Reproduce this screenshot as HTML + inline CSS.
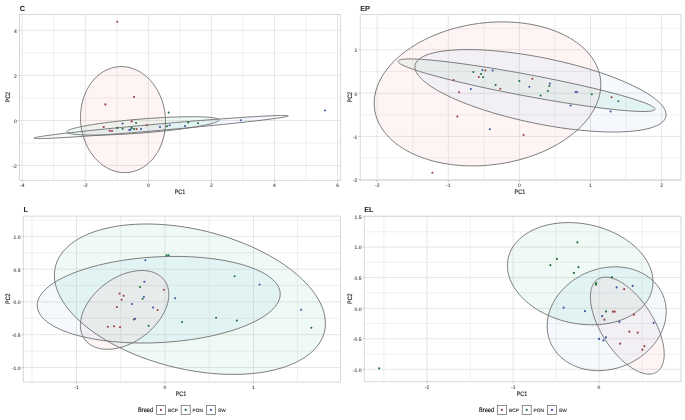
<!DOCTYPE html>
<html><head><meta charset="utf-8"><title>PCA</title>
<style>html,body{margin:0;padding:0;background:#fff;}body{width:685px;height:420px;overflow:hidden;font-family:"Liberation Sans",sans-serif;}</style></head>
<body>
<svg width="685" height="420" viewBox="0 0 685 420" style="display:block;font-family:'Liberation Sans',sans-serif;text-rendering:geometricPrecision">
<defs><filter id="bl" x="-5%" y="-5%" width="110%" height="110%"><feGaussianBlur stdDeviation="0.4"/></filter></defs>
<rect width="685" height="420" fill="#ffffff"/>
<g filter="url(#bl)">
<clipPath id="cC"><rect x="19.50" y="14.60" width="321.20" height="165.70"/></clipPath>
<g>
<line x1="19.50" x2="340.70" y1="52.90" y2="52.90" stroke="#eaeaea" stroke-width="0.75"/>
<line x1="19.50" x2="340.70" y1="98.00" y2="98.00" stroke="#eaeaea" stroke-width="0.75"/>
<line x1="19.50" x2="340.70" y1="143.00" y2="143.00" stroke="#eaeaea" stroke-width="0.75"/>
<line x1="53.70" x2="53.70" y1="14.60" y2="180.30" stroke="#eaeaea" stroke-width="0.75"/>
<line x1="116.80" x2="116.80" y1="14.60" y2="180.30" stroke="#eaeaea" stroke-width="0.75"/>
<line x1="179.90" x2="179.90" y1="14.60" y2="180.30" stroke="#eaeaea" stroke-width="0.75"/>
<line x1="243.00" x2="243.00" y1="14.60" y2="180.30" stroke="#eaeaea" stroke-width="0.75"/>
<line x1="306.10" x2="306.10" y1="14.60" y2="180.30" stroke="#eaeaea" stroke-width="0.75"/>
<line x1="19.50" x2="340.70" y1="30.30" y2="30.30" stroke="#e3e3e3" stroke-width="0.9"/>
<line x1="19.50" x2="340.70" y1="75.40" y2="75.40" stroke="#e3e3e3" stroke-width="0.9"/>
<line x1="19.50" x2="340.70" y1="120.50" y2="120.50" stroke="#e3e3e3" stroke-width="0.9"/>
<line x1="19.50" x2="340.70" y1="165.50" y2="165.50" stroke="#e3e3e3" stroke-width="0.9"/>
<line x1="22.20" x2="22.20" y1="14.60" y2="180.30" stroke="#e3e3e3" stroke-width="0.9"/>
<line x1="85.30" x2="85.30" y1="14.60" y2="180.30" stroke="#e3e3e3" stroke-width="0.9"/>
<line x1="148.40" x2="148.40" y1="14.60" y2="180.30" stroke="#e3e3e3" stroke-width="0.9"/>
<line x1="211.40" x2="211.40" y1="14.60" y2="180.30" stroke="#e3e3e3" stroke-width="0.9"/>
<line x1="274.50" x2="274.50" y1="14.60" y2="180.30" stroke="#e3e3e3" stroke-width="0.9"/>
<line x1="337.60" x2="337.60" y1="14.60" y2="180.30" stroke="#e3e3e3" stroke-width="0.9"/>
</g>
<g clip-path="url(#cC)">
<path d="M165.50,121.72 L165.47,123.80 L165.37,125.87 L165.21,127.93 L164.98,129.98 L164.68,132.01 L164.33,134.02 L163.90,136.02 L163.42,137.98 L162.87,139.92 L162.26,141.82 L161.60,143.70 L160.87,145.53 L160.08,147.33 L159.24,149.08 L158.34,150.78 L157.38,152.44 L156.38,154.05 L155.32,155.61 L154.21,157.10 L153.05,158.55 L151.85,159.93 L150.60,161.25 L149.31,162.50 L147.98,163.69 L146.61,164.81 L145.21,165.86 L143.77,166.84 L142.29,167.75 L140.79,168.58 L139.26,169.34 L137.71,170.02 L136.13,170.62 L134.54,171.14 L132.92,171.59 L131.29,171.95 L129.65,172.24 L128.00,172.44 L126.33,172.56 L124.67,172.60 L123.00,172.56 L121.33,172.43 L119.67,172.23 L118.00,171.94 L116.35,171.57 L114.71,171.13 L113.08,170.60 L111.46,169.99 L109.87,169.31 L108.29,168.55 L106.74,167.72 L105.21,166.81 L103.71,165.82 L102.23,164.77 L100.79,163.65 L99.39,162.45 L98.02,161.20 L96.69,159.88 L95.40,158.49 L94.15,157.05 L92.95,155.55 L91.79,153.99 L90.68,152.38 L89.62,150.72 L88.62,149.01 L87.66,147.26 L86.76,145.46 L85.92,143.63 L85.13,141.75 L84.40,139.85 L83.74,137.91 L83.13,135.94 L82.58,133.95 L82.10,131.93 L81.67,129.90 L81.32,127.85 L81.02,125.79 L80.79,123.72 L80.63,121.64 L80.53,119.56 L80.50,117.48 L80.53,115.40 L80.63,113.33 L80.79,111.27 L81.02,109.22 L81.32,107.19 L81.67,105.18 L82.10,103.18 L82.58,101.22 L83.13,99.28 L83.74,97.38 L84.40,95.50 L85.13,93.67 L85.92,91.87 L86.76,90.12 L87.66,88.42 L88.62,86.76 L89.62,85.15 L90.68,83.59 L91.79,82.10 L92.95,80.65 L94.15,79.27 L95.40,77.95 L96.69,76.70 L98.02,75.51 L99.39,74.39 L100.79,73.34 L102.23,72.36 L103.71,71.45 L105.21,70.62 L106.74,69.86 L108.29,69.18 L109.87,68.58 L111.46,68.06 L113.08,67.61 L114.71,67.25 L116.35,66.96 L118.00,66.76 L119.67,66.64 L121.33,66.60 L123.00,66.64 L124.67,66.77 L126.33,66.97 L128.00,67.26 L129.65,67.63 L131.29,68.07 L132.92,68.60 L134.54,69.21 L136.13,69.89 L137.71,70.65 L139.26,71.48 L140.79,72.39 L142.29,73.38 L143.77,74.43 L145.21,75.55 L146.61,76.75 L147.98,78.00 L149.31,79.32 L150.60,80.71 L151.85,82.15 L153.05,83.65 L154.21,85.21 L155.32,86.82 L156.38,88.48 L157.38,90.19 L158.34,91.94 L159.24,93.74 L160.08,95.57 L160.87,97.45 L161.60,99.35 L162.26,101.29 L162.87,103.26 L163.42,105.25 L163.90,107.27 L164.33,109.30 L164.68,111.35 L164.98,113.41 L165.21,115.48 L165.37,117.56 L165.47,119.64Z" fill="rgba(225,50,50,0.044)" stroke="none"/>
<path d="M219.07,119.96 L219.01,120.24 L218.83,120.53 L218.54,120.83 L218.13,121.14 L217.61,121.45 L216.97,121.77 L216.21,122.09 L215.34,122.42 L214.37,122.76 L213.28,123.10 L212.08,123.45 L210.78,123.80 L209.37,124.15 L207.86,124.51 L206.25,124.87 L204.54,125.22 L202.74,125.59 L200.84,125.95 L198.86,126.31 L196.79,126.67 L194.63,127.03 L192.40,127.38 L190.09,127.74 L187.71,128.09 L185.26,128.44 L182.74,128.79 L180.17,129.13 L177.53,129.46 L174.85,129.79 L172.11,130.12 L169.33,130.43 L166.51,130.74 L163.65,131.05 L160.76,131.34 L157.84,131.63 L154.90,131.91 L151.94,132.18 L148.97,132.43 L145.99,132.68 L143.00,132.92 L140.01,133.15 L137.03,133.37 L134.06,133.57 L131.10,133.76 L128.16,133.94 L125.24,134.11 L122.35,134.27 L119.49,134.41 L116.67,134.54 L113.89,134.66 L111.15,134.76 L108.47,134.85 L105.83,134.93 L103.26,134.99 L100.74,135.04 L98.29,135.07 L95.91,135.09 L93.60,135.09 L91.37,135.09 L89.21,135.06 L87.14,135.03 L85.16,134.97 L83.26,134.91 L81.46,134.83 L79.75,134.74 L78.14,134.63 L76.63,134.51 L75.22,134.38 L73.92,134.23 L72.72,134.07 L71.63,133.90 L70.66,133.72 L69.79,133.52 L69.03,133.31 L68.39,133.09 L67.87,132.86 L67.46,132.62 L67.17,132.37 L66.99,132.11 L66.93,131.84 L66.99,131.56 L67.17,131.27 L67.46,130.97 L67.87,130.66 L68.39,130.35 L69.03,130.03 L69.79,129.71 L70.66,129.38 L71.63,129.04 L72.72,128.70 L73.92,128.35 L75.22,128.00 L76.63,127.65 L78.14,127.29 L79.75,126.93 L81.46,126.58 L83.26,126.21 L85.16,125.85 L87.14,125.49 L89.21,125.13 L91.37,124.77 L93.60,124.42 L95.91,124.06 L98.29,123.71 L100.74,123.36 L103.26,123.01 L105.83,122.67 L108.47,122.34 L111.15,122.01 L113.89,121.68 L116.67,121.37 L119.49,121.06 L122.35,120.75 L125.24,120.46 L128.16,120.17 L131.10,119.89 L134.06,119.62 L137.03,119.37 L140.01,119.12 L143.00,118.88 L145.99,118.65 L148.97,118.43 L151.94,118.23 L154.90,118.04 L157.84,117.86 L160.76,117.69 L163.65,117.53 L166.51,117.39 L169.33,117.26 L172.11,117.14 L174.85,117.04 L177.53,116.95 L180.17,116.87 L182.74,116.81 L185.26,116.76 L187.71,116.73 L190.09,116.71 L192.40,116.71 L194.63,116.71 L196.79,116.74 L198.86,116.77 L200.84,116.83 L202.74,116.89 L204.54,116.97 L206.25,117.06 L207.86,117.17 L209.37,117.29 L210.78,117.42 L212.08,117.57 L213.28,117.73 L214.37,117.90 L215.34,118.08 L216.21,118.28 L216.97,118.49 L217.61,118.71 L218.13,118.94 L218.54,119.18 L218.83,119.43 L219.01,119.69Z" fill="rgba(30,160,95,0.062)" stroke="none"/>
<path d="M288.36,115.88 L288.27,116.01 L287.97,116.16 L287.48,116.33 L286.80,116.52 L285.92,116.72 L284.85,116.93 L283.59,117.17 L282.14,117.41 L280.50,117.68 L278.68,117.95 L276.68,118.24 L274.50,118.55 L272.14,118.86 L269.62,119.19 L266.92,119.54 L264.07,119.89 L261.05,120.25 L257.88,120.63 L254.57,121.01 L251.10,121.41 L247.50,121.81 L243.77,122.22 L239.91,122.64 L235.92,123.06 L231.83,123.49 L227.62,123.93 L223.31,124.37 L218.90,124.81 L214.41,125.26 L209.83,125.71 L205.18,126.16 L200.46,126.62 L195.68,127.07 L190.85,127.53 L185.97,127.98 L181.05,128.43 L176.10,128.88 L171.13,129.33 L166.14,129.77 L161.15,130.21 L156.16,130.65 L151.17,131.07 L146.20,131.50 L141.25,131.91 L136.33,132.32 L131.45,132.72 L126.62,133.11 L121.84,133.49 L117.12,133.86 L112.47,134.22 L107.89,134.57 L103.40,134.91 L98.99,135.24 L94.68,135.55 L90.47,135.85 L86.38,136.14 L82.39,136.41 L78.53,136.67 L74.80,136.91 L71.20,137.14 L67.73,137.35 L64.42,137.54 L61.25,137.72 L58.23,137.89 L55.38,138.03 L52.68,138.16 L50.16,138.27 L47.80,138.37 L45.62,138.45 L43.62,138.51 L41.80,138.55 L40.16,138.57 L38.71,138.58 L37.45,138.57 L36.38,138.54 L35.50,138.49 L34.82,138.42 L34.33,138.34 L34.03,138.24 L33.94,138.12 L34.03,137.99 L34.33,137.84 L34.82,137.67 L35.50,137.48 L36.38,137.28 L37.45,137.07 L38.71,136.83 L40.16,136.59 L41.80,136.32 L43.62,136.05 L45.62,135.76 L47.80,135.45 L50.16,135.14 L52.68,134.81 L55.38,134.46 L58.23,134.11 L61.25,133.75 L64.42,133.37 L67.73,132.99 L71.20,132.59 L74.80,132.19 L78.53,131.78 L82.39,131.36 L86.38,130.94 L90.47,130.51 L94.68,130.07 L98.99,129.63 L103.40,129.19 L107.89,128.74 L112.47,128.29 L117.12,127.84 L121.84,127.38 L126.62,126.93 L131.45,126.47 L136.33,126.02 L141.25,125.57 L146.20,125.12 L151.17,124.67 L156.16,124.23 L161.15,123.79 L166.14,123.35 L171.13,122.93 L176.10,122.50 L181.05,122.09 L185.97,121.68 L190.85,121.28 L195.68,120.89 L200.46,120.51 L205.18,120.14 L209.83,119.78 L214.41,119.43 L218.90,119.09 L223.31,118.76 L227.62,118.45 L231.83,118.15 L235.92,117.86 L239.91,117.59 L243.77,117.33 L247.50,117.09 L251.10,116.86 L254.57,116.65 L257.88,116.46 L261.05,116.28 L264.07,116.11 L266.92,115.97 L269.62,115.84 L272.14,115.73 L274.50,115.63 L276.68,115.55 L278.68,115.49 L280.50,115.45 L282.14,115.43 L283.59,115.42 L284.85,115.43 L285.92,115.46 L286.80,115.51 L287.48,115.58 L287.97,115.66 L288.27,115.76Z" fill="rgba(60,150,240,0.055)" stroke="none"/>
<path d="M165.50,121.72 L165.47,123.80 L165.37,125.87 L165.21,127.93 L164.98,129.98 L164.68,132.01 L164.33,134.02 L163.90,136.02 L163.42,137.98 L162.87,139.92 L162.26,141.82 L161.60,143.70 L160.87,145.53 L160.08,147.33 L159.24,149.08 L158.34,150.78 L157.38,152.44 L156.38,154.05 L155.32,155.61 L154.21,157.10 L153.05,158.55 L151.85,159.93 L150.60,161.25 L149.31,162.50 L147.98,163.69 L146.61,164.81 L145.21,165.86 L143.77,166.84 L142.29,167.75 L140.79,168.58 L139.26,169.34 L137.71,170.02 L136.13,170.62 L134.54,171.14 L132.92,171.59 L131.29,171.95 L129.65,172.24 L128.00,172.44 L126.33,172.56 L124.67,172.60 L123.00,172.56 L121.33,172.43 L119.67,172.23 L118.00,171.94 L116.35,171.57 L114.71,171.13 L113.08,170.60 L111.46,169.99 L109.87,169.31 L108.29,168.55 L106.74,167.72 L105.21,166.81 L103.71,165.82 L102.23,164.77 L100.79,163.65 L99.39,162.45 L98.02,161.20 L96.69,159.88 L95.40,158.49 L94.15,157.05 L92.95,155.55 L91.79,153.99 L90.68,152.38 L89.62,150.72 L88.62,149.01 L87.66,147.26 L86.76,145.46 L85.92,143.63 L85.13,141.75 L84.40,139.85 L83.74,137.91 L83.13,135.94 L82.58,133.95 L82.10,131.93 L81.67,129.90 L81.32,127.85 L81.02,125.79 L80.79,123.72 L80.63,121.64 L80.53,119.56 L80.50,117.48 L80.53,115.40 L80.63,113.33 L80.79,111.27 L81.02,109.22 L81.32,107.19 L81.67,105.18 L82.10,103.18 L82.58,101.22 L83.13,99.28 L83.74,97.38 L84.40,95.50 L85.13,93.67 L85.92,91.87 L86.76,90.12 L87.66,88.42 L88.62,86.76 L89.62,85.15 L90.68,83.59 L91.79,82.10 L92.95,80.65 L94.15,79.27 L95.40,77.95 L96.69,76.70 L98.02,75.51 L99.39,74.39 L100.79,73.34 L102.23,72.36 L103.71,71.45 L105.21,70.62 L106.74,69.86 L108.29,69.18 L109.87,68.58 L111.46,68.06 L113.08,67.61 L114.71,67.25 L116.35,66.96 L118.00,66.76 L119.67,66.64 L121.33,66.60 L123.00,66.64 L124.67,66.77 L126.33,66.97 L128.00,67.26 L129.65,67.63 L131.29,68.07 L132.92,68.60 L134.54,69.21 L136.13,69.89 L137.71,70.65 L139.26,71.48 L140.79,72.39 L142.29,73.38 L143.77,74.43 L145.21,75.55 L146.61,76.75 L147.98,78.00 L149.31,79.32 L150.60,80.71 L151.85,82.15 L153.05,83.65 L154.21,85.21 L155.32,86.82 L156.38,88.48 L157.38,90.19 L158.34,91.94 L159.24,93.74 L160.08,95.57 L160.87,97.45 L161.60,99.35 L162.26,101.29 L162.87,103.26 L163.42,105.25 L163.90,107.27 L164.33,109.30 L164.68,111.35 L164.98,113.41 L165.21,115.48 L165.37,117.56 L165.47,119.64Z" fill="none" stroke="#6e6e6e" stroke-width="0.9"/>
<path d="M219.07,119.96 L219.01,120.24 L218.83,120.53 L218.54,120.83 L218.13,121.14 L217.61,121.45 L216.97,121.77 L216.21,122.09 L215.34,122.42 L214.37,122.76 L213.28,123.10 L212.08,123.45 L210.78,123.80 L209.37,124.15 L207.86,124.51 L206.25,124.87 L204.54,125.22 L202.74,125.59 L200.84,125.95 L198.86,126.31 L196.79,126.67 L194.63,127.03 L192.40,127.38 L190.09,127.74 L187.71,128.09 L185.26,128.44 L182.74,128.79 L180.17,129.13 L177.53,129.46 L174.85,129.79 L172.11,130.12 L169.33,130.43 L166.51,130.74 L163.65,131.05 L160.76,131.34 L157.84,131.63 L154.90,131.91 L151.94,132.18 L148.97,132.43 L145.99,132.68 L143.00,132.92 L140.01,133.15 L137.03,133.37 L134.06,133.57 L131.10,133.76 L128.16,133.94 L125.24,134.11 L122.35,134.27 L119.49,134.41 L116.67,134.54 L113.89,134.66 L111.15,134.76 L108.47,134.85 L105.83,134.93 L103.26,134.99 L100.74,135.04 L98.29,135.07 L95.91,135.09 L93.60,135.09 L91.37,135.09 L89.21,135.06 L87.14,135.03 L85.16,134.97 L83.26,134.91 L81.46,134.83 L79.75,134.74 L78.14,134.63 L76.63,134.51 L75.22,134.38 L73.92,134.23 L72.72,134.07 L71.63,133.90 L70.66,133.72 L69.79,133.52 L69.03,133.31 L68.39,133.09 L67.87,132.86 L67.46,132.62 L67.17,132.37 L66.99,132.11 L66.93,131.84 L66.99,131.56 L67.17,131.27 L67.46,130.97 L67.87,130.66 L68.39,130.35 L69.03,130.03 L69.79,129.71 L70.66,129.38 L71.63,129.04 L72.72,128.70 L73.92,128.35 L75.22,128.00 L76.63,127.65 L78.14,127.29 L79.75,126.93 L81.46,126.58 L83.26,126.21 L85.16,125.85 L87.14,125.49 L89.21,125.13 L91.37,124.77 L93.60,124.42 L95.91,124.06 L98.29,123.71 L100.74,123.36 L103.26,123.01 L105.83,122.67 L108.47,122.34 L111.15,122.01 L113.89,121.68 L116.67,121.37 L119.49,121.06 L122.35,120.75 L125.24,120.46 L128.16,120.17 L131.10,119.89 L134.06,119.62 L137.03,119.37 L140.01,119.12 L143.00,118.88 L145.99,118.65 L148.97,118.43 L151.94,118.23 L154.90,118.04 L157.84,117.86 L160.76,117.69 L163.65,117.53 L166.51,117.39 L169.33,117.26 L172.11,117.14 L174.85,117.04 L177.53,116.95 L180.17,116.87 L182.74,116.81 L185.26,116.76 L187.71,116.73 L190.09,116.71 L192.40,116.71 L194.63,116.71 L196.79,116.74 L198.86,116.77 L200.84,116.83 L202.74,116.89 L204.54,116.97 L206.25,117.06 L207.86,117.17 L209.37,117.29 L210.78,117.42 L212.08,117.57 L213.28,117.73 L214.37,117.90 L215.34,118.08 L216.21,118.28 L216.97,118.49 L217.61,118.71 L218.13,118.94 L218.54,119.18 L218.83,119.43 L219.01,119.69Z" fill="none" stroke="#6e6e6e" stroke-width="0.9"/>
<path d="M288.36,115.88 L288.27,116.01 L287.97,116.16 L287.48,116.33 L286.80,116.52 L285.92,116.72 L284.85,116.93 L283.59,117.17 L282.14,117.41 L280.50,117.68 L278.68,117.95 L276.68,118.24 L274.50,118.55 L272.14,118.86 L269.62,119.19 L266.92,119.54 L264.07,119.89 L261.05,120.25 L257.88,120.63 L254.57,121.01 L251.10,121.41 L247.50,121.81 L243.77,122.22 L239.91,122.64 L235.92,123.06 L231.83,123.49 L227.62,123.93 L223.31,124.37 L218.90,124.81 L214.41,125.26 L209.83,125.71 L205.18,126.16 L200.46,126.62 L195.68,127.07 L190.85,127.53 L185.97,127.98 L181.05,128.43 L176.10,128.88 L171.13,129.33 L166.14,129.77 L161.15,130.21 L156.16,130.65 L151.17,131.07 L146.20,131.50 L141.25,131.91 L136.33,132.32 L131.45,132.72 L126.62,133.11 L121.84,133.49 L117.12,133.86 L112.47,134.22 L107.89,134.57 L103.40,134.91 L98.99,135.24 L94.68,135.55 L90.47,135.85 L86.38,136.14 L82.39,136.41 L78.53,136.67 L74.80,136.91 L71.20,137.14 L67.73,137.35 L64.42,137.54 L61.25,137.72 L58.23,137.89 L55.38,138.03 L52.68,138.16 L50.16,138.27 L47.80,138.37 L45.62,138.45 L43.62,138.51 L41.80,138.55 L40.16,138.57 L38.71,138.58 L37.45,138.57 L36.38,138.54 L35.50,138.49 L34.82,138.42 L34.33,138.34 L34.03,138.24 L33.94,138.12 L34.03,137.99 L34.33,137.84 L34.82,137.67 L35.50,137.48 L36.38,137.28 L37.45,137.07 L38.71,136.83 L40.16,136.59 L41.80,136.32 L43.62,136.05 L45.62,135.76 L47.80,135.45 L50.16,135.14 L52.68,134.81 L55.38,134.46 L58.23,134.11 L61.25,133.75 L64.42,133.37 L67.73,132.99 L71.20,132.59 L74.80,132.19 L78.53,131.78 L82.39,131.36 L86.38,130.94 L90.47,130.51 L94.68,130.07 L98.99,129.63 L103.40,129.19 L107.89,128.74 L112.47,128.29 L117.12,127.84 L121.84,127.38 L126.62,126.93 L131.45,126.47 L136.33,126.02 L141.25,125.57 L146.20,125.12 L151.17,124.67 L156.16,124.23 L161.15,123.79 L166.14,123.35 L171.13,122.93 L176.10,122.50 L181.05,122.09 L185.97,121.68 L190.85,121.28 L195.68,120.89 L200.46,120.51 L205.18,120.14 L209.83,119.78 L214.41,119.43 L218.90,119.09 L223.31,118.76 L227.62,118.45 L231.83,118.15 L235.92,117.86 L239.91,117.59 L243.77,117.33 L247.50,117.09 L251.10,116.86 L254.57,116.65 L257.88,116.46 L261.05,116.28 L264.07,116.11 L266.92,115.97 L269.62,115.84 L272.14,115.73 L274.50,115.63 L276.68,115.55 L278.68,115.49 L280.50,115.45 L282.14,115.43 L283.59,115.42 L284.85,115.43 L285.92,115.46 L286.80,115.51 L287.48,115.58 L287.97,115.66 L288.27,115.76Z" fill="none" stroke="#6e6e6e" stroke-width="0.9"/>
<circle cx="117.25" cy="21.75" r="1.05" fill="#9a3e3e"/>
<circle cx="134.00" cy="97.00" r="1.05" fill="#9a3e3e"/>
<circle cx="105.30" cy="104.40" r="1.05" fill="#9a3e3e"/>
<circle cx="131.70" cy="121.40" r="1.05" fill="#9a3e3e"/>
<circle cx="103.70" cy="127.00" r="1.05" fill="#9a3e3e"/>
<circle cx="109.70" cy="130.70" r="1.05" fill="#9a3e3e"/>
<circle cx="112.00" cy="131.00" r="1.05" fill="#9a3e3e"/>
<circle cx="146.70" cy="125.20" r="1.05" fill="#9a3e3e"/>
<circle cx="136.50" cy="129.10" r="1.05" fill="#9a3e3e"/>
<circle cx="168.70" cy="112.60" r="1.05" fill="#1d7034"/>
<circle cx="136.10" cy="123.00" r="1.05" fill="#1d7034"/>
<circle cx="117.40" cy="127.90" r="1.05" fill="#1d7034"/>
<circle cx="122.60" cy="128.80" r="1.05" fill="#1d7034"/>
<circle cx="131.70" cy="127.90" r="1.05" fill="#1d7034"/>
<circle cx="134.00" cy="129.00" r="1.05" fill="#1d7034"/>
<circle cx="167.00" cy="126.30" r="1.05" fill="#1d7034"/>
<circle cx="188.25" cy="122.50" r="1.05" fill="#1d7034"/>
<circle cx="198.00" cy="123.25" r="1.05" fill="#1d7034"/>
<circle cx="122.60" cy="123.50" r="1.05" fill="#3b54a6"/>
<circle cx="129.30" cy="130.00" r="1.05" fill="#3b54a6"/>
<circle cx="130.50" cy="129.60" r="1.05" fill="#3b54a6"/>
<circle cx="141.00" cy="129.00" r="1.05" fill="#3b54a6"/>
<circle cx="160.00" cy="127.00" r="1.05" fill="#3b54a6"/>
<circle cx="169.60" cy="125.20" r="1.05" fill="#3b54a6"/>
<circle cx="185.00" cy="126.00" r="1.05" fill="#3b54a6"/>
<circle cx="240.75" cy="120.25" r="1.05" fill="#3b54a6"/>
<circle cx="325.00" cy="110.50" r="1.05" fill="#3b54a6"/>
</g>
<rect x="19.50" y="14.60" width="321.20" height="165.70" fill="none" stroke="#d0d0d0" stroke-width="0.8"/>
<line x1="18.00" x2="19.50" y1="30.30" y2="30.30" stroke="#888" stroke-width="0.5"/>
<text x="16.70" y="32.60" font-size="5" fill="#444" stroke="#444" stroke-width="0.1" text-anchor="end">4</text>
<line x1="18.00" x2="19.50" y1="75.40" y2="75.40" stroke="#888" stroke-width="0.5"/>
<text x="16.70" y="77.70" font-size="5" fill="#444" stroke="#444" stroke-width="0.1" text-anchor="end">2</text>
<line x1="18.00" x2="19.50" y1="120.50" y2="120.50" stroke="#888" stroke-width="0.5"/>
<text x="16.70" y="122.80" font-size="5" fill="#444" stroke="#444" stroke-width="0.1" text-anchor="end">0</text>
<line x1="18.00" x2="19.50" y1="165.50" y2="165.50" stroke="#888" stroke-width="0.5"/>
<text x="16.70" y="167.80" font-size="5" fill="#444" stroke="#444" stroke-width="0.1" text-anchor="end">-2</text>
<line x1="22.20" x2="22.20" y1="180.30" y2="181.80" stroke="#888" stroke-width="0.5"/>
<text x="22.20" y="187.20" font-size="5" fill="#444" stroke="#444" stroke-width="0.1" text-anchor="middle">-4</text>
<line x1="85.30" x2="85.30" y1="180.30" y2="181.80" stroke="#888" stroke-width="0.5"/>
<text x="85.30" y="187.20" font-size="5" fill="#444" stroke="#444" stroke-width="0.1" text-anchor="middle">-2</text>
<line x1="148.40" x2="148.40" y1="180.30" y2="181.80" stroke="#888" stroke-width="0.5"/>
<text x="148.40" y="187.20" font-size="5" fill="#444" stroke="#444" stroke-width="0.1" text-anchor="middle">0</text>
<line x1="211.40" x2="211.40" y1="180.30" y2="181.80" stroke="#888" stroke-width="0.5"/>
<text x="211.40" y="187.20" font-size="5" fill="#444" stroke="#444" stroke-width="0.1" text-anchor="middle">2</text>
<line x1="274.50" x2="274.50" y1="180.30" y2="181.80" stroke="#888" stroke-width="0.5"/>
<text x="274.50" y="187.20" font-size="5" fill="#444" stroke="#444" stroke-width="0.1" text-anchor="middle">4</text>
<line x1="337.60" x2="337.60" y1="180.30" y2="181.80" stroke="#888" stroke-width="0.5"/>
<text x="337.60" y="187.20" font-size="5" fill="#444" stroke="#444" stroke-width="0.1" text-anchor="middle">6</text>
<text x="19.70" y="10.50" font-size="7.4" font-weight="bold" fill="#222">C</text>
<text x="180.00" y="194.00" font-size="6.4" fill="#2a2a2a" stroke="#2a2a2a" stroke-width="0.18" text-anchor="middle" textLength="10.6" lengthAdjust="spacingAndGlyphs">PC1</text>
<text transform="translate(10.30,97.20) rotate(-90)" font-size="6.4" fill="#2a2a2a" stroke="#2a2a2a" stroke-width="0.18" text-anchor="middle" textLength="10.6" lengthAdjust="spacingAndGlyphs">PC2</text>
<clipPath id="cEP"><rect x="360.20" y="14.60" width="320.70" height="165.70"/></clipPath>
<g>
<line x1="360.20" x2="680.90" y1="28.30" y2="28.30" stroke="#eaeaea" stroke-width="0.75"/>
<line x1="360.20" x2="680.90" y1="71.50" y2="71.50" stroke="#eaeaea" stroke-width="0.75"/>
<line x1="360.20" x2="680.90" y1="114.80" y2="114.80" stroke="#eaeaea" stroke-width="0.75"/>
<line x1="360.20" x2="680.90" y1="158.00" y2="158.00" stroke="#eaeaea" stroke-width="0.75"/>
<line x1="412.80" x2="412.80" y1="14.60" y2="180.30" stroke="#eaeaea" stroke-width="0.75"/>
<line x1="484.30" x2="484.30" y1="14.60" y2="180.30" stroke="#eaeaea" stroke-width="0.75"/>
<line x1="555.00" x2="555.00" y1="14.60" y2="180.30" stroke="#eaeaea" stroke-width="0.75"/>
<line x1="626.00" x2="626.00" y1="14.60" y2="180.30" stroke="#eaeaea" stroke-width="0.75"/>
<line x1="360.20" x2="680.90" y1="49.80" y2="49.80" stroke="#e3e3e3" stroke-width="0.9"/>
<line x1="360.20" x2="680.90" y1="93.20" y2="93.20" stroke="#e3e3e3" stroke-width="0.9"/>
<line x1="360.20" x2="680.90" y1="136.40" y2="136.40" stroke="#e3e3e3" stroke-width="0.9"/>
<line x1="360.20" x2="680.90" y1="179.50" y2="179.50" stroke="#e3e3e3" stroke-width="0.9"/>
<line x1="377.20" x2="377.20" y1="14.60" y2="180.30" stroke="#e3e3e3" stroke-width="0.9"/>
<line x1="448.30" x2="448.30" y1="14.60" y2="180.30" stroke="#e3e3e3" stroke-width="0.9"/>
<line x1="519.40" x2="519.40" y1="14.60" y2="180.30" stroke="#e3e3e3" stroke-width="0.9"/>
<line x1="590.50" x2="590.50" y1="14.60" y2="180.30" stroke="#e3e3e3" stroke-width="0.9"/>
<line x1="661.60" x2="661.60" y1="14.60" y2="180.30" stroke="#e3e3e3" stroke-width="0.9"/>
</g>
<g clip-path="url(#cEP)">
<path d="M600.80,84.54 L600.71,87.35 L600.45,90.17 L600.01,93.00 L599.41,95.82 L598.62,98.65 L597.67,101.46 L596.55,104.27 L595.25,107.06 L593.80,109.83 L592.18,112.57 L590.39,115.29 L588.45,117.97 L586.35,120.62 L584.10,123.22 L581.71,125.78 L579.16,128.29 L576.48,130.75 L573.65,133.15 L570.70,135.49 L567.62,137.76 L564.41,139.97 L561.08,142.11 L557.64,144.17 L554.10,146.15 L550.45,148.06 L546.70,149.88 L542.86,151.61 L538.94,153.26 L534.93,154.81 L530.86,156.27 L526.72,157.64 L522.51,158.90 L518.25,160.07 L513.95,161.13 L509.60,162.09 L505.22,162.95 L500.82,163.69 L496.39,164.33 L491.95,164.87 L487.50,165.29 L483.05,165.60 L478.61,165.80 L474.18,165.89 L469.78,165.87 L465.40,165.74 L461.05,165.50 L456.75,165.15 L452.49,164.69 L448.28,164.12 L444.14,163.44 L440.07,162.65 L436.06,161.76 L432.14,160.76 L428.30,159.66 L424.55,158.46 L420.90,157.16 L417.36,155.76 L413.92,154.26 L410.59,152.68 L407.38,151.00 L404.30,149.23 L401.35,147.38 L398.52,145.45 L395.84,143.43 L393.29,141.34 L390.90,139.18 L388.65,136.95 L386.55,134.65 L384.61,132.29 L382.82,129.87 L381.20,127.39 L379.75,124.86 L378.45,122.29 L377.33,119.67 L376.38,117.01 L375.59,114.31 L374.99,111.59 L374.55,108.83 L374.29,106.06 L374.20,103.26 L374.29,100.45 L374.55,97.63 L374.99,94.80 L375.59,91.98 L376.38,89.15 L377.33,86.34 L378.45,83.53 L379.75,80.74 L381.20,77.97 L382.82,75.23 L384.61,72.51 L386.55,69.83 L388.65,67.18 L390.90,64.58 L393.29,62.02 L395.84,59.51 L398.52,57.05 L401.35,54.65 L404.30,52.31 L407.38,50.04 L410.59,47.83 L413.92,45.69 L417.36,43.63 L420.90,41.65 L424.55,39.74 L428.30,37.92 L432.14,36.19 L436.06,34.54 L440.07,32.99 L444.14,31.53 L448.28,30.16 L452.49,28.90 L456.75,27.73 L461.05,26.67 L465.40,25.71 L469.78,24.85 L474.18,24.11 L478.61,23.47 L483.05,22.93 L487.50,22.51 L491.95,22.20 L496.39,22.00 L500.82,21.91 L505.22,21.93 L509.60,22.06 L513.95,22.30 L518.25,22.65 L522.51,23.11 L526.72,23.68 L530.86,24.36 L534.93,25.15 L538.94,26.04 L542.86,27.04 L546.70,28.14 L550.45,29.34 L554.10,30.64 L557.64,32.04 L561.08,33.54 L564.41,35.12 L567.62,36.80 L570.70,38.57 L573.65,40.42 L576.48,42.35 L579.16,44.37 L581.71,46.46 L584.10,48.62 L586.35,50.85 L588.45,53.15 L590.39,55.51 L592.18,57.93 L593.80,60.41 L595.25,62.94 L596.55,65.51 L597.67,68.13 L598.62,70.79 L599.41,73.49 L600.01,76.21 L600.45,78.97 L600.71,81.74Z" fill="rgba(225,50,50,0.044)" stroke="none"/>
<path d="M666.10,114.70 L666.00,116.00 L665.71,117.26 L665.23,118.48 L664.55,119.65 L663.69,120.78 L662.63,121.87 L661.38,122.91 L659.95,123.90 L658.34,124.84 L656.54,125.72 L654.56,126.55 L652.41,127.33 L650.09,128.05 L647.59,128.71 L644.93,129.31 L642.11,129.86 L639.14,130.34 L636.01,130.77 L632.73,131.13 L629.31,131.43 L625.76,131.67 L622.07,131.84 L618.26,131.95 L614.33,132.00 L610.28,131.98 L606.13,131.90 L601.87,131.76 L597.52,131.55 L593.08,131.28 L588.57,130.95 L583.97,130.56 L579.31,130.10 L574.59,129.59 L569.82,129.01 L565.00,128.38 L560.15,127.69 L555.26,126.94 L550.35,126.13 L545.43,125.27 L540.50,124.36 L535.57,123.40 L530.65,122.38 L525.74,121.32 L520.85,120.21 L516.00,119.06 L511.18,117.86 L506.41,116.62 L501.69,115.34 L497.03,114.02 L492.43,112.66 L487.92,111.27 L483.48,109.86 L479.13,108.41 L474.87,106.93 L470.72,105.43 L466.67,103.91 L462.74,102.36 L458.93,100.80 L455.24,99.22 L451.69,97.64 L448.27,96.03 L444.99,94.43 L441.86,92.81 L438.89,91.20 L436.07,89.58 L433.41,87.96 L430.91,86.35 L428.59,84.75 L426.44,83.15 L424.46,81.57 L422.66,80.00 L421.05,78.44 L419.62,76.91 L418.37,75.40 L417.31,73.91 L416.45,72.45 L415.77,71.01 L415.29,69.61 L415.00,68.24 L414.90,66.90 L415.00,65.60 L415.29,64.34 L415.77,63.12 L416.45,61.95 L417.31,60.82 L418.37,59.73 L419.62,58.69 L421.05,57.70 L422.66,56.76 L424.46,55.88 L426.44,55.05 L428.59,54.27 L430.91,53.55 L433.41,52.89 L436.07,52.29 L438.89,51.74 L441.86,51.26 L444.99,50.83 L448.27,50.47 L451.69,50.17 L455.24,49.93 L458.93,49.76 L462.74,49.65 L466.67,49.60 L470.72,49.62 L474.87,49.70 L479.13,49.84 L483.48,50.05 L487.92,50.32 L492.43,50.65 L497.03,51.04 L501.69,51.50 L506.41,52.01 L511.18,52.59 L516.00,53.22 L520.85,53.91 L525.74,54.66 L530.65,55.47 L535.57,56.33 L540.50,57.24 L545.43,58.20 L550.35,59.22 L555.26,60.28 L560.15,61.39 L565.00,62.54 L569.82,63.74 L574.59,64.98 L579.31,66.26 L583.97,67.58 L588.57,68.94 L593.08,70.33 L597.52,71.74 L601.87,73.19 L606.13,74.67 L610.28,76.17 L614.33,77.69 L618.26,79.24 L622.07,80.80 L625.76,82.38 L629.31,83.96 L632.73,85.57 L636.01,87.17 L639.14,88.79 L642.11,90.40 L644.93,92.02 L647.59,93.64 L650.09,95.25 L652.41,96.85 L654.56,98.45 L656.54,100.03 L658.34,101.60 L659.95,103.16 L661.38,104.69 L662.63,106.20 L663.69,107.69 L664.55,109.15 L665.23,110.59 L665.71,111.99 L666.00,113.36Z" fill="rgba(60,150,240,0.055)" stroke="none"/>
<path d="M654.99,109.08 L654.89,109.49 L654.59,109.86 L654.09,110.20 L653.40,110.50 L652.52,110.76 L651.43,110.98 L650.16,111.16 L648.70,111.30 L647.04,111.40 L645.20,111.46 L643.18,111.48 L640.98,111.46 L638.60,111.40 L636.05,111.30 L633.33,111.16 L630.45,110.97 L627.40,110.75 L624.20,110.49 L620.85,110.19 L617.35,109.85 L613.72,109.47 L609.94,109.06 L606.04,108.61 L602.02,108.12 L597.88,107.60 L593.63,107.04 L589.28,106.45 L584.83,105.83 L580.29,105.17 L575.67,104.49 L570.97,103.77 L566.20,103.03 L561.38,102.25 L556.49,101.46 L551.57,100.63 L546.60,99.79 L541.60,98.92 L536.58,98.03 L531.54,97.12 L526.50,96.19 L521.46,95.24 L516.42,94.28 L511.40,93.30 L506.40,92.32 L501.43,91.32 L496.51,90.31 L491.62,89.29 L486.80,88.27 L482.03,87.24 L477.33,86.21 L472.71,85.18 L468.17,84.15 L463.72,83.12 L459.37,82.09 L455.12,81.07 L450.98,80.05 L446.96,79.05 L443.06,78.05 L439.28,77.06 L435.65,76.09 L432.15,75.13 L428.80,74.18 L425.60,73.25 L422.55,72.34 L419.67,71.45 L416.95,70.58 L414.40,69.74 L412.02,68.91 L409.82,68.12 L407.80,67.35 L405.96,66.60 L404.30,65.89 L402.84,65.20 L401.57,64.55 L400.48,63.93 L399.60,63.34 L398.91,62.78 L398.41,62.26 L398.11,61.77 L398.01,61.32 L398.11,60.91 L398.41,60.54 L398.91,60.20 L399.60,59.90 L400.48,59.64 L401.57,59.42 L402.84,59.24 L404.30,59.10 L405.96,59.00 L407.80,58.94 L409.82,58.92 L412.02,58.94 L414.40,59.00 L416.95,59.10 L419.67,59.24 L422.55,59.43 L425.60,59.65 L428.80,59.91 L432.15,60.21 L435.65,60.55 L439.28,60.93 L443.06,61.34 L446.96,61.79 L450.98,62.28 L455.12,62.80 L459.37,63.36 L463.72,63.95 L468.17,64.57 L472.71,65.23 L477.33,65.91 L482.03,66.63 L486.80,67.37 L491.62,68.15 L496.51,68.94 L501.43,69.77 L506.40,70.61 L511.40,71.48 L516.42,72.37 L521.46,73.28 L526.50,74.21 L531.54,75.16 L536.58,76.12 L541.60,77.10 L546.60,78.08 L551.57,79.08 L556.49,80.09 L561.38,81.11 L566.20,82.13 L570.97,83.16 L575.67,84.19 L580.29,85.22 L584.83,86.25 L589.28,87.28 L593.63,88.31 L597.88,89.33 L602.02,90.35 L606.04,91.35 L609.94,92.35 L613.72,93.34 L617.35,94.31 L620.85,95.27 L624.20,96.22 L627.40,97.15 L630.45,98.06 L633.33,98.95 L636.05,99.82 L638.60,100.66 L640.98,101.49 L643.18,102.28 L645.20,103.05 L647.04,103.80 L648.70,104.51 L650.16,105.20 L651.43,105.85 L652.52,106.47 L653.40,107.06 L654.09,107.62 L654.59,108.14 L654.89,108.63Z" fill="rgba(30,160,95,0.062)" stroke="none"/>
<path d="M600.80,84.54 L600.71,87.35 L600.45,90.17 L600.01,93.00 L599.41,95.82 L598.62,98.65 L597.67,101.46 L596.55,104.27 L595.25,107.06 L593.80,109.83 L592.18,112.57 L590.39,115.29 L588.45,117.97 L586.35,120.62 L584.10,123.22 L581.71,125.78 L579.16,128.29 L576.48,130.75 L573.65,133.15 L570.70,135.49 L567.62,137.76 L564.41,139.97 L561.08,142.11 L557.64,144.17 L554.10,146.15 L550.45,148.06 L546.70,149.88 L542.86,151.61 L538.94,153.26 L534.93,154.81 L530.86,156.27 L526.72,157.64 L522.51,158.90 L518.25,160.07 L513.95,161.13 L509.60,162.09 L505.22,162.95 L500.82,163.69 L496.39,164.33 L491.95,164.87 L487.50,165.29 L483.05,165.60 L478.61,165.80 L474.18,165.89 L469.78,165.87 L465.40,165.74 L461.05,165.50 L456.75,165.15 L452.49,164.69 L448.28,164.12 L444.14,163.44 L440.07,162.65 L436.06,161.76 L432.14,160.76 L428.30,159.66 L424.55,158.46 L420.90,157.16 L417.36,155.76 L413.92,154.26 L410.59,152.68 L407.38,151.00 L404.30,149.23 L401.35,147.38 L398.52,145.45 L395.84,143.43 L393.29,141.34 L390.90,139.18 L388.65,136.95 L386.55,134.65 L384.61,132.29 L382.82,129.87 L381.20,127.39 L379.75,124.86 L378.45,122.29 L377.33,119.67 L376.38,117.01 L375.59,114.31 L374.99,111.59 L374.55,108.83 L374.29,106.06 L374.20,103.26 L374.29,100.45 L374.55,97.63 L374.99,94.80 L375.59,91.98 L376.38,89.15 L377.33,86.34 L378.45,83.53 L379.75,80.74 L381.20,77.97 L382.82,75.23 L384.61,72.51 L386.55,69.83 L388.65,67.18 L390.90,64.58 L393.29,62.02 L395.84,59.51 L398.52,57.05 L401.35,54.65 L404.30,52.31 L407.38,50.04 L410.59,47.83 L413.92,45.69 L417.36,43.63 L420.90,41.65 L424.55,39.74 L428.30,37.92 L432.14,36.19 L436.06,34.54 L440.07,32.99 L444.14,31.53 L448.28,30.16 L452.49,28.90 L456.75,27.73 L461.05,26.67 L465.40,25.71 L469.78,24.85 L474.18,24.11 L478.61,23.47 L483.05,22.93 L487.50,22.51 L491.95,22.20 L496.39,22.00 L500.82,21.91 L505.22,21.93 L509.60,22.06 L513.95,22.30 L518.25,22.65 L522.51,23.11 L526.72,23.68 L530.86,24.36 L534.93,25.15 L538.94,26.04 L542.86,27.04 L546.70,28.14 L550.45,29.34 L554.10,30.64 L557.64,32.04 L561.08,33.54 L564.41,35.12 L567.62,36.80 L570.70,38.57 L573.65,40.42 L576.48,42.35 L579.16,44.37 L581.71,46.46 L584.10,48.62 L586.35,50.85 L588.45,53.15 L590.39,55.51 L592.18,57.93 L593.80,60.41 L595.25,62.94 L596.55,65.51 L597.67,68.13 L598.62,70.79 L599.41,73.49 L600.01,76.21 L600.45,78.97 L600.71,81.74Z" fill="none" stroke="#6e6e6e" stroke-width="0.9"/>
<path d="M666.10,114.70 L666.00,116.00 L665.71,117.26 L665.23,118.48 L664.55,119.65 L663.69,120.78 L662.63,121.87 L661.38,122.91 L659.95,123.90 L658.34,124.84 L656.54,125.72 L654.56,126.55 L652.41,127.33 L650.09,128.05 L647.59,128.71 L644.93,129.31 L642.11,129.86 L639.14,130.34 L636.01,130.77 L632.73,131.13 L629.31,131.43 L625.76,131.67 L622.07,131.84 L618.26,131.95 L614.33,132.00 L610.28,131.98 L606.13,131.90 L601.87,131.76 L597.52,131.55 L593.08,131.28 L588.57,130.95 L583.97,130.56 L579.31,130.10 L574.59,129.59 L569.82,129.01 L565.00,128.38 L560.15,127.69 L555.26,126.94 L550.35,126.13 L545.43,125.27 L540.50,124.36 L535.57,123.40 L530.65,122.38 L525.74,121.32 L520.85,120.21 L516.00,119.06 L511.18,117.86 L506.41,116.62 L501.69,115.34 L497.03,114.02 L492.43,112.66 L487.92,111.27 L483.48,109.86 L479.13,108.41 L474.87,106.93 L470.72,105.43 L466.67,103.91 L462.74,102.36 L458.93,100.80 L455.24,99.22 L451.69,97.64 L448.27,96.03 L444.99,94.43 L441.86,92.81 L438.89,91.20 L436.07,89.58 L433.41,87.96 L430.91,86.35 L428.59,84.75 L426.44,83.15 L424.46,81.57 L422.66,80.00 L421.05,78.44 L419.62,76.91 L418.37,75.40 L417.31,73.91 L416.45,72.45 L415.77,71.01 L415.29,69.61 L415.00,68.24 L414.90,66.90 L415.00,65.60 L415.29,64.34 L415.77,63.12 L416.45,61.95 L417.31,60.82 L418.37,59.73 L419.62,58.69 L421.05,57.70 L422.66,56.76 L424.46,55.88 L426.44,55.05 L428.59,54.27 L430.91,53.55 L433.41,52.89 L436.07,52.29 L438.89,51.74 L441.86,51.26 L444.99,50.83 L448.27,50.47 L451.69,50.17 L455.24,49.93 L458.93,49.76 L462.74,49.65 L466.67,49.60 L470.72,49.62 L474.87,49.70 L479.13,49.84 L483.48,50.05 L487.92,50.32 L492.43,50.65 L497.03,51.04 L501.69,51.50 L506.41,52.01 L511.18,52.59 L516.00,53.22 L520.85,53.91 L525.74,54.66 L530.65,55.47 L535.57,56.33 L540.50,57.24 L545.43,58.20 L550.35,59.22 L555.26,60.28 L560.15,61.39 L565.00,62.54 L569.82,63.74 L574.59,64.98 L579.31,66.26 L583.97,67.58 L588.57,68.94 L593.08,70.33 L597.52,71.74 L601.87,73.19 L606.13,74.67 L610.28,76.17 L614.33,77.69 L618.26,79.24 L622.07,80.80 L625.76,82.38 L629.31,83.96 L632.73,85.57 L636.01,87.17 L639.14,88.79 L642.11,90.40 L644.93,92.02 L647.59,93.64 L650.09,95.25 L652.41,96.85 L654.56,98.45 L656.54,100.03 L658.34,101.60 L659.95,103.16 L661.38,104.69 L662.63,106.20 L663.69,107.69 L664.55,109.15 L665.23,110.59 L665.71,111.99 L666.00,113.36Z" fill="none" stroke="#6e6e6e" stroke-width="0.9"/>
<path d="M654.99,109.08 L654.89,109.49 L654.59,109.86 L654.09,110.20 L653.40,110.50 L652.52,110.76 L651.43,110.98 L650.16,111.16 L648.70,111.30 L647.04,111.40 L645.20,111.46 L643.18,111.48 L640.98,111.46 L638.60,111.40 L636.05,111.30 L633.33,111.16 L630.45,110.97 L627.40,110.75 L624.20,110.49 L620.85,110.19 L617.35,109.85 L613.72,109.47 L609.94,109.06 L606.04,108.61 L602.02,108.12 L597.88,107.60 L593.63,107.04 L589.28,106.45 L584.83,105.83 L580.29,105.17 L575.67,104.49 L570.97,103.77 L566.20,103.03 L561.38,102.25 L556.49,101.46 L551.57,100.63 L546.60,99.79 L541.60,98.92 L536.58,98.03 L531.54,97.12 L526.50,96.19 L521.46,95.24 L516.42,94.28 L511.40,93.30 L506.40,92.32 L501.43,91.32 L496.51,90.31 L491.62,89.29 L486.80,88.27 L482.03,87.24 L477.33,86.21 L472.71,85.18 L468.17,84.15 L463.72,83.12 L459.37,82.09 L455.12,81.07 L450.98,80.05 L446.96,79.05 L443.06,78.05 L439.28,77.06 L435.65,76.09 L432.15,75.13 L428.80,74.18 L425.60,73.25 L422.55,72.34 L419.67,71.45 L416.95,70.58 L414.40,69.74 L412.02,68.91 L409.82,68.12 L407.80,67.35 L405.96,66.60 L404.30,65.89 L402.84,65.20 L401.57,64.55 L400.48,63.93 L399.60,63.34 L398.91,62.78 L398.41,62.26 L398.11,61.77 L398.01,61.32 L398.11,60.91 L398.41,60.54 L398.91,60.20 L399.60,59.90 L400.48,59.64 L401.57,59.42 L402.84,59.24 L404.30,59.10 L405.96,59.00 L407.80,58.94 L409.82,58.92 L412.02,58.94 L414.40,59.00 L416.95,59.10 L419.67,59.24 L422.55,59.43 L425.60,59.65 L428.80,59.91 L432.15,60.21 L435.65,60.55 L439.28,60.93 L443.06,61.34 L446.96,61.79 L450.98,62.28 L455.12,62.80 L459.37,63.36 L463.72,63.95 L468.17,64.57 L472.71,65.23 L477.33,65.91 L482.03,66.63 L486.80,67.37 L491.62,68.15 L496.51,68.94 L501.43,69.77 L506.40,70.61 L511.40,71.48 L516.42,72.37 L521.46,73.28 L526.50,74.21 L531.54,75.16 L536.58,76.12 L541.60,77.10 L546.60,78.08 L551.57,79.08 L556.49,80.09 L561.38,81.11 L566.20,82.13 L570.97,83.16 L575.67,84.19 L580.29,85.22 L584.83,86.25 L589.28,87.28 L593.63,88.31 L597.88,89.33 L602.02,90.35 L606.04,91.35 L609.94,92.35 L613.72,93.34 L617.35,94.31 L620.85,95.27 L624.20,96.22 L627.40,97.15 L630.45,98.06 L633.33,98.95 L636.05,99.82 L638.60,100.66 L640.98,101.49 L643.18,102.28 L645.20,103.05 L647.04,103.80 L648.70,104.51 L650.16,105.20 L651.43,105.85 L652.52,106.47 L653.40,107.06 L654.09,107.62 L654.59,108.14 L654.89,108.63Z" fill="none" stroke="#6e6e6e" stroke-width="0.9"/>
<circle cx="473.35" cy="72.00" r="1.05" fill="#1d7034"/>
<circle cx="481.10" cy="74.00" r="1.05" fill="#1d7034"/>
<circle cx="483.10" cy="77.25" r="1.05" fill="#1d7034"/>
<circle cx="495.60" cy="85.00" r="1.05" fill="#1d7034"/>
<circle cx="485.35" cy="70.50" r="1.05" fill="#9a3e3e"/>
<circle cx="478.85" cy="77.00" r="1.05" fill="#9a3e3e"/>
<circle cx="453.60" cy="80.00" r="1.05" fill="#9a3e3e"/>
<circle cx="459.10" cy="92.25" r="1.05" fill="#9a3e3e"/>
<circle cx="500.35" cy="88.75" r="1.05" fill="#9a3e3e"/>
<circle cx="457.35" cy="116.50" r="1.05" fill="#9a3e3e"/>
<circle cx="432.35" cy="172.75" r="1.05" fill="#9a3e3e"/>
<circle cx="482.35" cy="70.00" r="1.05" fill="#3b54a6"/>
<circle cx="492.60" cy="70.50" r="1.05" fill="#3b54a6"/>
<circle cx="470.85" cy="89.00" r="1.05" fill="#3b54a6"/>
<circle cx="489.85" cy="129.25" r="1.05" fill="#3b54a6"/>
<circle cx="519.35" cy="81.00" r="1.05" fill="#1d7034"/>
<circle cx="549.35" cy="86.00" r="1.05" fill="#1d7034"/>
<circle cx="547.85" cy="91.00" r="1.05" fill="#1d7034"/>
<circle cx="540.60" cy="95.50" r="1.05" fill="#1d7034"/>
<circle cx="591.85" cy="94.25" r="1.05" fill="#1d7034"/>
<circle cx="618.35" cy="101.25" r="1.05" fill="#1d7034"/>
<circle cx="532.35" cy="78.75" r="1.05" fill="#9a3e3e"/>
<circle cx="611.60" cy="97.25" r="1.05" fill="#9a3e3e"/>
<circle cx="523.60" cy="135.00" r="1.05" fill="#9a3e3e"/>
<circle cx="529.35" cy="86.75" r="1.05" fill="#3b54a6"/>
<circle cx="549.85" cy="83.50" r="1.05" fill="#3b54a6"/>
<circle cx="575.60" cy="92.00" r="1.05" fill="#3b54a6"/>
<circle cx="577.10" cy="92.00" r="1.05" fill="#3b54a6"/>
<circle cx="570.60" cy="105.50" r="1.05" fill="#3b54a6"/>
<circle cx="610.60" cy="111.50" r="1.05" fill="#3b54a6"/>
</g>
<rect x="360.20" y="14.60" width="320.70" height="165.70" fill="none" stroke="#d0d0d0" stroke-width="0.8"/>
<line x1="358.70" x2="360.20" y1="49.80" y2="49.80" stroke="#888" stroke-width="0.5"/>
<text x="357.40" y="52.10" font-size="5" fill="#444" stroke="#444" stroke-width="0.1" text-anchor="end">1</text>
<line x1="358.70" x2="360.20" y1="93.20" y2="93.20" stroke="#888" stroke-width="0.5"/>
<text x="357.40" y="95.50" font-size="5" fill="#444" stroke="#444" stroke-width="0.1" text-anchor="end">0</text>
<line x1="358.70" x2="360.20" y1="136.40" y2="136.40" stroke="#888" stroke-width="0.5"/>
<text x="357.40" y="138.70" font-size="5" fill="#444" stroke="#444" stroke-width="0.1" text-anchor="end">-1</text>
<line x1="358.70" x2="360.20" y1="179.50" y2="179.50" stroke="#888" stroke-width="0.5"/>
<text x="357.40" y="181.80" font-size="5" fill="#444" stroke="#444" stroke-width="0.1" text-anchor="end">-2</text>
<line x1="377.20" x2="377.20" y1="180.30" y2="181.80" stroke="#888" stroke-width="0.5"/>
<text x="377.20" y="187.20" font-size="5" fill="#444" stroke="#444" stroke-width="0.1" text-anchor="middle">-2</text>
<line x1="448.30" x2="448.30" y1="180.30" y2="181.80" stroke="#888" stroke-width="0.5"/>
<text x="448.30" y="187.20" font-size="5" fill="#444" stroke="#444" stroke-width="0.1" text-anchor="middle">-1</text>
<line x1="519.40" x2="519.40" y1="180.30" y2="181.80" stroke="#888" stroke-width="0.5"/>
<text x="519.40" y="187.20" font-size="5" fill="#444" stroke="#444" stroke-width="0.1" text-anchor="middle">0</text>
<line x1="590.50" x2="590.50" y1="180.30" y2="181.80" stroke="#888" stroke-width="0.5"/>
<text x="590.50" y="187.20" font-size="5" fill="#444" stroke="#444" stroke-width="0.1" text-anchor="middle">1</text>
<line x1="661.60" x2="661.60" y1="180.30" y2="181.80" stroke="#888" stroke-width="0.5"/>
<text x="661.60" y="187.20" font-size="5" fill="#444" stroke="#444" stroke-width="0.1" text-anchor="middle">2</text>
<text x="360.20" y="10.50" font-size="7.4" font-weight="bold" fill="#222">EP</text>
<text x="519.90" y="194.00" font-size="6.4" fill="#2a2a2a" stroke="#2a2a2a" stroke-width="0.18" text-anchor="middle" textLength="10.6" lengthAdjust="spacingAndGlyphs">PC1</text>
<text transform="translate(352.00,97.20) rotate(-90)" font-size="6.4" fill="#2a2a2a" stroke="#2a2a2a" stroke-width="0.18" text-anchor="middle" textLength="10.6" lengthAdjust="spacingAndGlyphs">PC2</text>
<clipPath id="cL"><rect x="23.30" y="216.10" width="317.20" height="166.00"/></clipPath>
<g>
<line x1="23.30" x2="340.50" y1="220.20" y2="220.20" stroke="#eaeaea" stroke-width="0.75"/>
<line x1="23.30" x2="340.50" y1="252.80" y2="252.80" stroke="#eaeaea" stroke-width="0.75"/>
<line x1="23.30" x2="340.50" y1="285.60" y2="285.60" stroke="#eaeaea" stroke-width="0.75"/>
<line x1="23.30" x2="340.50" y1="318.30" y2="318.30" stroke="#eaeaea" stroke-width="0.75"/>
<line x1="23.30" x2="340.50" y1="351.10" y2="351.10" stroke="#eaeaea" stroke-width="0.75"/>
<line x1="32.00" x2="32.00" y1="216.10" y2="382.10" stroke="#eaeaea" stroke-width="0.75"/>
<line x1="120.70" x2="120.70" y1="216.10" y2="382.10" stroke="#eaeaea" stroke-width="0.75"/>
<line x1="209.20" x2="209.20" y1="216.10" y2="382.10" stroke="#eaeaea" stroke-width="0.75"/>
<line x1="297.60" x2="297.60" y1="216.10" y2="382.10" stroke="#eaeaea" stroke-width="0.75"/>
<line x1="23.30" x2="340.50" y1="236.40" y2="236.40" stroke="#e3e3e3" stroke-width="0.9"/>
<line x1="23.30" x2="340.50" y1="269.20" y2="269.20" stroke="#e3e3e3" stroke-width="0.9"/>
<line x1="23.30" x2="340.50" y1="301.90" y2="301.90" stroke="#e3e3e3" stroke-width="0.9"/>
<line x1="23.30" x2="340.50" y1="334.70" y2="334.70" stroke="#e3e3e3" stroke-width="0.9"/>
<line x1="23.30" x2="340.50" y1="367.50" y2="367.50" stroke="#e3e3e3" stroke-width="0.9"/>
<line x1="76.50" x2="76.50" y1="216.10" y2="382.10" stroke="#e3e3e3" stroke-width="0.9"/>
<line x1="165.00" x2="165.00" y1="216.10" y2="382.10" stroke="#e3e3e3" stroke-width="0.9"/>
<line x1="253.50" x2="253.50" y1="216.10" y2="382.10" stroke="#e3e3e3" stroke-width="0.9"/>
</g>
<g clip-path="url(#cL)">
<path d="M325.40,323.26 L325.30,326.04 L324.98,328.78 L324.46,331.47 L323.73,334.11 L322.80,336.70 L321.66,339.23 L320.31,341.70 L318.77,344.10 L317.02,346.44 L315.09,348.70 L312.95,350.88 L310.63,352.99 L308.12,355.01 L305.43,356.94 L302.56,358.79 L299.52,360.55 L296.31,362.21 L292.94,363.77 L289.40,365.23 L285.71,366.59 L281.88,367.85 L277.90,369.00 L273.79,370.05 L269.54,370.98 L265.18,371.81 L260.70,372.52 L256.11,373.12 L251.42,373.61 L246.63,373.98 L241.75,374.23 L236.80,374.37 L231.77,374.39 L226.68,374.30 L221.53,374.09 L216.33,373.77 L211.10,373.33 L205.83,372.78 L200.53,372.11 L195.22,371.34 L189.90,370.45 L184.58,369.45 L179.27,368.34 L173.97,367.12 L168.70,365.80 L163.47,364.38 L158.27,362.86 L153.12,361.24 L148.03,359.52 L143.00,357.71 L138.05,355.81 L133.17,353.83 L128.38,351.76 L123.69,349.60 L119.10,347.37 L114.62,345.07 L110.26,342.69 L106.01,340.25 L101.90,337.75 L97.92,335.18 L94.09,332.56 L90.40,329.89 L86.86,327.17 L83.49,324.41 L80.28,321.61 L77.24,318.77 L74.37,315.91 L71.68,313.02 L69.17,310.10 L66.85,307.17 L64.71,304.23 L62.78,301.28 L61.03,298.33 L59.49,295.38 L58.14,292.43 L57.00,289.50 L56.07,286.58 L55.34,283.68 L54.82,280.80 L54.50,277.95 L54.40,275.14 L54.50,272.36 L54.82,269.62 L55.34,266.93 L56.07,264.29 L57.00,261.70 L58.14,259.17 L59.49,256.70 L61.03,254.30 L62.78,251.96 L64.71,249.70 L66.85,247.52 L69.17,245.41 L71.68,243.39 L74.37,241.46 L77.24,239.61 L80.28,237.85 L83.49,236.19 L86.86,234.63 L90.40,233.17 L94.09,231.81 L97.92,230.55 L101.90,229.40 L106.01,228.35 L110.26,227.42 L114.62,226.59 L119.10,225.88 L123.69,225.28 L128.38,224.79 L133.17,224.42 L138.05,224.17 L143.00,224.03 L148.03,224.01 L153.12,224.10 L158.27,224.31 L163.47,224.63 L168.70,225.07 L173.97,225.62 L179.27,226.29 L184.58,227.06 L189.90,227.95 L195.22,228.95 L200.53,230.06 L205.83,231.28 L211.10,232.60 L216.33,234.02 L221.53,235.54 L226.68,237.16 L231.77,238.88 L236.80,240.69 L241.75,242.59 L246.63,244.57 L251.42,246.64 L256.11,248.80 L260.70,251.03 L265.18,253.33 L269.54,255.71 L273.79,258.15 L277.90,260.65 L281.88,263.22 L285.71,265.84 L289.40,268.51 L292.94,271.23 L296.31,273.99 L299.52,276.79 L302.56,279.63 L305.43,282.49 L308.12,285.38 L310.63,288.30 L312.95,291.23 L315.09,294.17 L317.02,297.12 L318.77,300.07 L320.31,303.02 L321.66,305.97 L322.80,308.90 L323.73,311.82 L324.46,314.72 L324.98,317.60 L325.30,320.45Z" fill="rgba(30,160,95,0.062)" stroke="none"/>
<path d="M280.20,294.07 L280.11,295.76 L279.83,297.46 L279.36,299.16 L278.70,300.86 L277.87,302.55 L276.84,304.25 L275.64,305.94 L274.25,307.61 L272.69,309.28 L270.95,310.93 L269.04,312.56 L266.96,314.18 L264.71,315.77 L262.30,317.33 L259.72,318.87 L257.00,320.38 L254.12,321.86 L251.09,323.30 L247.92,324.71 L244.61,326.08 L241.17,327.41 L237.61,328.69 L233.92,329.93 L230.12,331.12 L226.20,332.27 L222.18,333.36 L218.07,334.41 L213.86,335.40 L209.57,336.33 L205.20,337.21 L200.75,338.03 L196.25,338.79 L191.68,339.49 L187.06,340.13 L182.40,340.71 L177.71,341.22 L172.98,341.67 L168.23,342.06 L163.47,342.38 L158.70,342.63 L153.93,342.82 L149.17,342.94 L144.42,343.00 L139.69,342.98 L135.00,342.91 L130.34,342.76 L125.72,342.55 L121.15,342.27 L116.65,341.93 L112.20,341.52 L107.83,341.05 L103.54,340.51 L99.33,339.91 L95.22,339.25 L91.20,338.52 L87.28,337.74 L83.48,336.90 L79.79,336.00 L76.23,335.05 L72.79,334.04 L69.48,332.98 L66.31,331.86 L63.28,330.70 L60.40,329.49 L57.68,328.23 L55.10,326.93 L52.69,325.59 L50.44,324.21 L48.36,322.79 L46.45,321.33 L44.71,319.84 L43.15,318.32 L41.76,316.77 L40.56,315.20 L39.53,313.60 L38.70,311.98 L38.04,310.34 L37.57,308.68 L37.29,307.01 L37.20,305.33 L37.29,303.64 L37.57,301.94 L38.04,300.24 L38.70,298.54 L39.53,296.85 L40.56,295.15 L41.76,293.46 L43.15,291.79 L44.71,290.12 L46.45,288.47 L48.36,286.84 L50.44,285.22 L52.69,283.63 L55.10,282.07 L57.68,280.53 L60.40,279.02 L63.28,277.54 L66.31,276.10 L69.48,274.69 L72.79,273.32 L76.23,271.99 L79.79,270.71 L83.48,269.47 L87.28,268.28 L91.20,267.13 L95.22,266.04 L99.33,264.99 L103.54,264.00 L107.83,263.07 L112.20,262.19 L116.65,261.37 L121.15,260.61 L125.72,259.91 L130.34,259.27 L135.00,258.69 L139.69,258.18 L144.42,257.73 L149.17,257.34 L153.93,257.02 L158.70,256.77 L163.47,256.58 L168.23,256.46 L172.98,256.40 L177.71,256.42 L182.40,256.49 L187.06,256.64 L191.68,256.85 L196.25,257.13 L200.75,257.47 L205.20,257.88 L209.57,258.35 L213.86,258.89 L218.07,259.49 L222.18,260.15 L226.20,260.88 L230.12,261.66 L233.92,262.50 L237.61,263.40 L241.17,264.35 L244.61,265.36 L247.92,266.42 L251.09,267.54 L254.12,268.70 L257.00,269.91 L259.72,271.17 L262.30,272.47 L264.71,273.81 L266.96,275.19 L269.04,276.61 L270.95,278.07 L272.69,279.56 L274.25,281.08 L275.64,282.63 L276.84,284.20 L277.87,285.80 L278.70,287.42 L279.36,289.06 L279.83,290.72 L280.11,292.39Z" fill="rgba(60,150,240,0.055)" stroke="none"/>
<path d="M168.80,294.53 L168.77,295.97 L168.66,297.43 L168.49,298.90 L168.26,300.40 L167.95,301.91 L167.58,303.43 L167.14,304.96 L166.64,306.50 L166.07,308.04 L165.44,309.59 L164.74,311.13 L163.98,312.68 L163.16,314.22 L162.29,315.75 L161.35,317.28 L160.36,318.79 L159.31,320.29 L158.21,321.78 L157.06,323.24 L155.85,324.69 L154.60,326.11 L153.31,327.51 L151.96,328.88 L150.58,330.22 L149.16,331.53 L147.69,332.81 L146.20,334.05 L144.67,335.25 L143.10,336.41 L141.51,337.54 L139.90,338.62 L138.26,339.66 L136.60,340.65 L134.92,341.59 L133.22,342.49 L131.51,343.33 L129.80,344.12 L128.07,344.86 L126.34,345.55 L124.60,346.18 L122.86,346.76 L121.13,347.27 L119.40,347.73 L117.69,348.14 L115.98,348.48 L114.28,348.76 L112.60,348.99 L110.94,349.15 L109.30,349.26 L107.69,349.30 L106.10,349.28 L104.53,349.20 L103.00,349.06 L101.51,348.86 L100.04,348.60 L98.62,348.28 L97.24,347.90 L95.89,347.47 L94.60,346.97 L93.35,346.42 L92.14,345.81 L90.99,345.15 L89.89,344.43 L88.84,343.66 L87.85,342.83 L86.91,341.96 L86.04,341.03 L85.22,340.06 L84.46,339.04 L83.76,337.98 L83.13,336.87 L82.56,335.73 L82.06,334.54 L81.62,333.31 L81.25,332.05 L80.94,330.75 L80.71,329.42 L80.54,328.07 L80.43,326.68 L80.40,325.27 L80.43,323.83 L80.54,322.37 L80.71,320.90 L80.94,319.40 L81.25,317.89 L81.62,316.37 L82.06,314.84 L82.56,313.30 L83.13,311.76 L83.76,310.21 L84.46,308.67 L85.22,307.12 L86.04,305.58 L86.91,304.05 L87.85,302.52 L88.84,301.01 L89.89,299.51 L90.99,298.02 L92.14,296.56 L93.35,295.11 L94.60,293.69 L95.89,292.29 L97.24,290.92 L98.62,289.58 L100.04,288.27 L101.51,286.99 L103.00,285.75 L104.53,284.55 L106.10,283.39 L107.69,282.26 L109.30,281.18 L110.94,280.14 L112.60,279.15 L114.28,278.21 L115.98,277.31 L117.69,276.47 L119.40,275.68 L121.13,274.94 L122.86,274.25 L124.60,273.62 L126.34,273.04 L128.07,272.53 L129.80,272.07 L131.51,271.66 L133.22,271.32 L134.92,271.04 L136.60,270.81 L138.26,270.65 L139.90,270.54 L141.51,270.50 L143.10,270.52 L144.67,270.60 L146.20,270.74 L147.69,270.94 L149.16,271.20 L150.58,271.52 L151.96,271.90 L153.31,272.33 L154.60,272.83 L155.85,273.38 L157.06,273.99 L158.21,274.65 L159.31,275.37 L160.36,276.14 L161.35,276.97 L162.29,277.84 L163.16,278.77 L163.98,279.74 L164.74,280.76 L165.44,281.82 L166.07,282.93 L166.64,284.07 L167.14,285.26 L167.58,286.49 L167.95,287.75 L168.26,289.05 L168.49,290.38 L168.66,291.73 L168.77,293.12Z" fill="rgba(225,50,50,0.044)" stroke="none"/>
<path d="M325.40,323.26 L325.30,326.04 L324.98,328.78 L324.46,331.47 L323.73,334.11 L322.80,336.70 L321.66,339.23 L320.31,341.70 L318.77,344.10 L317.02,346.44 L315.09,348.70 L312.95,350.88 L310.63,352.99 L308.12,355.01 L305.43,356.94 L302.56,358.79 L299.52,360.55 L296.31,362.21 L292.94,363.77 L289.40,365.23 L285.71,366.59 L281.88,367.85 L277.90,369.00 L273.79,370.05 L269.54,370.98 L265.18,371.81 L260.70,372.52 L256.11,373.12 L251.42,373.61 L246.63,373.98 L241.75,374.23 L236.80,374.37 L231.77,374.39 L226.68,374.30 L221.53,374.09 L216.33,373.77 L211.10,373.33 L205.83,372.78 L200.53,372.11 L195.22,371.34 L189.90,370.45 L184.58,369.45 L179.27,368.34 L173.97,367.12 L168.70,365.80 L163.47,364.38 L158.27,362.86 L153.12,361.24 L148.03,359.52 L143.00,357.71 L138.05,355.81 L133.17,353.83 L128.38,351.76 L123.69,349.60 L119.10,347.37 L114.62,345.07 L110.26,342.69 L106.01,340.25 L101.90,337.75 L97.92,335.18 L94.09,332.56 L90.40,329.89 L86.86,327.17 L83.49,324.41 L80.28,321.61 L77.24,318.77 L74.37,315.91 L71.68,313.02 L69.17,310.10 L66.85,307.17 L64.71,304.23 L62.78,301.28 L61.03,298.33 L59.49,295.38 L58.14,292.43 L57.00,289.50 L56.07,286.58 L55.34,283.68 L54.82,280.80 L54.50,277.95 L54.40,275.14 L54.50,272.36 L54.82,269.62 L55.34,266.93 L56.07,264.29 L57.00,261.70 L58.14,259.17 L59.49,256.70 L61.03,254.30 L62.78,251.96 L64.71,249.70 L66.85,247.52 L69.17,245.41 L71.68,243.39 L74.37,241.46 L77.24,239.61 L80.28,237.85 L83.49,236.19 L86.86,234.63 L90.40,233.17 L94.09,231.81 L97.92,230.55 L101.90,229.40 L106.01,228.35 L110.26,227.42 L114.62,226.59 L119.10,225.88 L123.69,225.28 L128.38,224.79 L133.17,224.42 L138.05,224.17 L143.00,224.03 L148.03,224.01 L153.12,224.10 L158.27,224.31 L163.47,224.63 L168.70,225.07 L173.97,225.62 L179.27,226.29 L184.58,227.06 L189.90,227.95 L195.22,228.95 L200.53,230.06 L205.83,231.28 L211.10,232.60 L216.33,234.02 L221.53,235.54 L226.68,237.16 L231.77,238.88 L236.80,240.69 L241.75,242.59 L246.63,244.57 L251.42,246.64 L256.11,248.80 L260.70,251.03 L265.18,253.33 L269.54,255.71 L273.79,258.15 L277.90,260.65 L281.88,263.22 L285.71,265.84 L289.40,268.51 L292.94,271.23 L296.31,273.99 L299.52,276.79 L302.56,279.63 L305.43,282.49 L308.12,285.38 L310.63,288.30 L312.95,291.23 L315.09,294.17 L317.02,297.12 L318.77,300.07 L320.31,303.02 L321.66,305.97 L322.80,308.90 L323.73,311.82 L324.46,314.72 L324.98,317.60 L325.30,320.45Z" fill="none" stroke="#6e6e6e" stroke-width="0.9"/>
<path d="M280.20,294.07 L280.11,295.76 L279.83,297.46 L279.36,299.16 L278.70,300.86 L277.87,302.55 L276.84,304.25 L275.64,305.94 L274.25,307.61 L272.69,309.28 L270.95,310.93 L269.04,312.56 L266.96,314.18 L264.71,315.77 L262.30,317.33 L259.72,318.87 L257.00,320.38 L254.12,321.86 L251.09,323.30 L247.92,324.71 L244.61,326.08 L241.17,327.41 L237.61,328.69 L233.92,329.93 L230.12,331.12 L226.20,332.27 L222.18,333.36 L218.07,334.41 L213.86,335.40 L209.57,336.33 L205.20,337.21 L200.75,338.03 L196.25,338.79 L191.68,339.49 L187.06,340.13 L182.40,340.71 L177.71,341.22 L172.98,341.67 L168.23,342.06 L163.47,342.38 L158.70,342.63 L153.93,342.82 L149.17,342.94 L144.42,343.00 L139.69,342.98 L135.00,342.91 L130.34,342.76 L125.72,342.55 L121.15,342.27 L116.65,341.93 L112.20,341.52 L107.83,341.05 L103.54,340.51 L99.33,339.91 L95.22,339.25 L91.20,338.52 L87.28,337.74 L83.48,336.90 L79.79,336.00 L76.23,335.05 L72.79,334.04 L69.48,332.98 L66.31,331.86 L63.28,330.70 L60.40,329.49 L57.68,328.23 L55.10,326.93 L52.69,325.59 L50.44,324.21 L48.36,322.79 L46.45,321.33 L44.71,319.84 L43.15,318.32 L41.76,316.77 L40.56,315.20 L39.53,313.60 L38.70,311.98 L38.04,310.34 L37.57,308.68 L37.29,307.01 L37.20,305.33 L37.29,303.64 L37.57,301.94 L38.04,300.24 L38.70,298.54 L39.53,296.85 L40.56,295.15 L41.76,293.46 L43.15,291.79 L44.71,290.12 L46.45,288.47 L48.36,286.84 L50.44,285.22 L52.69,283.63 L55.10,282.07 L57.68,280.53 L60.40,279.02 L63.28,277.54 L66.31,276.10 L69.48,274.69 L72.79,273.32 L76.23,271.99 L79.79,270.71 L83.48,269.47 L87.28,268.28 L91.20,267.13 L95.22,266.04 L99.33,264.99 L103.54,264.00 L107.83,263.07 L112.20,262.19 L116.65,261.37 L121.15,260.61 L125.72,259.91 L130.34,259.27 L135.00,258.69 L139.69,258.18 L144.42,257.73 L149.17,257.34 L153.93,257.02 L158.70,256.77 L163.47,256.58 L168.23,256.46 L172.98,256.40 L177.71,256.42 L182.40,256.49 L187.06,256.64 L191.68,256.85 L196.25,257.13 L200.75,257.47 L205.20,257.88 L209.57,258.35 L213.86,258.89 L218.07,259.49 L222.18,260.15 L226.20,260.88 L230.12,261.66 L233.92,262.50 L237.61,263.40 L241.17,264.35 L244.61,265.36 L247.92,266.42 L251.09,267.54 L254.12,268.70 L257.00,269.91 L259.72,271.17 L262.30,272.47 L264.71,273.81 L266.96,275.19 L269.04,276.61 L270.95,278.07 L272.69,279.56 L274.25,281.08 L275.64,282.63 L276.84,284.20 L277.87,285.80 L278.70,287.42 L279.36,289.06 L279.83,290.72 L280.11,292.39Z" fill="none" stroke="#6e6e6e" stroke-width="0.9"/>
<path d="M168.80,294.53 L168.77,295.97 L168.66,297.43 L168.49,298.90 L168.26,300.40 L167.95,301.91 L167.58,303.43 L167.14,304.96 L166.64,306.50 L166.07,308.04 L165.44,309.59 L164.74,311.13 L163.98,312.68 L163.16,314.22 L162.29,315.75 L161.35,317.28 L160.36,318.79 L159.31,320.29 L158.21,321.78 L157.06,323.24 L155.85,324.69 L154.60,326.11 L153.31,327.51 L151.96,328.88 L150.58,330.22 L149.16,331.53 L147.69,332.81 L146.20,334.05 L144.67,335.25 L143.10,336.41 L141.51,337.54 L139.90,338.62 L138.26,339.66 L136.60,340.65 L134.92,341.59 L133.22,342.49 L131.51,343.33 L129.80,344.12 L128.07,344.86 L126.34,345.55 L124.60,346.18 L122.86,346.76 L121.13,347.27 L119.40,347.73 L117.69,348.14 L115.98,348.48 L114.28,348.76 L112.60,348.99 L110.94,349.15 L109.30,349.26 L107.69,349.30 L106.10,349.28 L104.53,349.20 L103.00,349.06 L101.51,348.86 L100.04,348.60 L98.62,348.28 L97.24,347.90 L95.89,347.47 L94.60,346.97 L93.35,346.42 L92.14,345.81 L90.99,345.15 L89.89,344.43 L88.84,343.66 L87.85,342.83 L86.91,341.96 L86.04,341.03 L85.22,340.06 L84.46,339.04 L83.76,337.98 L83.13,336.87 L82.56,335.73 L82.06,334.54 L81.62,333.31 L81.25,332.05 L80.94,330.75 L80.71,329.42 L80.54,328.07 L80.43,326.68 L80.40,325.27 L80.43,323.83 L80.54,322.37 L80.71,320.90 L80.94,319.40 L81.25,317.89 L81.62,316.37 L82.06,314.84 L82.56,313.30 L83.13,311.76 L83.76,310.21 L84.46,308.67 L85.22,307.12 L86.04,305.58 L86.91,304.05 L87.85,302.52 L88.84,301.01 L89.89,299.51 L90.99,298.02 L92.14,296.56 L93.35,295.11 L94.60,293.69 L95.89,292.29 L97.24,290.92 L98.62,289.58 L100.04,288.27 L101.51,286.99 L103.00,285.75 L104.53,284.55 L106.10,283.39 L107.69,282.26 L109.30,281.18 L110.94,280.14 L112.60,279.15 L114.28,278.21 L115.98,277.31 L117.69,276.47 L119.40,275.68 L121.13,274.94 L122.86,274.25 L124.60,273.62 L126.34,273.04 L128.07,272.53 L129.80,272.07 L131.51,271.66 L133.22,271.32 L134.92,271.04 L136.60,270.81 L138.26,270.65 L139.90,270.54 L141.51,270.50 L143.10,270.52 L144.67,270.60 L146.20,270.74 L147.69,270.94 L149.16,271.20 L150.58,271.52 L151.96,271.90 L153.31,272.33 L154.60,272.83 L155.85,273.38 L157.06,273.99 L158.21,274.65 L159.31,275.37 L160.36,276.14 L161.35,276.97 L162.29,277.84 L163.16,278.77 L163.98,279.74 L164.74,280.76 L165.44,281.82 L166.07,282.93 L166.64,284.07 L167.14,285.26 L167.58,286.49 L167.95,287.75 L168.26,289.05 L168.49,290.38 L168.66,291.73 L168.77,293.12Z" fill="none" stroke="#6e6e6e" stroke-width="0.9"/>
<circle cx="166.60" cy="255.20" r="1.05" fill="#1d7034"/>
<circle cx="168.60" cy="255.20" r="1.05" fill="#1d7034"/>
<circle cx="140.10" cy="286.95" r="1.05" fill="#1d7034"/>
<circle cx="142.60" cy="298.70" r="1.05" fill="#1d7034"/>
<circle cx="145.35" cy="260.20" r="1.05" fill="#3b54a6"/>
<circle cx="144.35" cy="281.70" r="1.05" fill="#3b54a6"/>
<circle cx="143.85" cy="296.70" r="1.05" fill="#3b54a6"/>
<circle cx="163.85" cy="289.70" r="1.05" fill="#9a3e3e"/>
<circle cx="119.60" cy="293.45" r="1.05" fill="#9a3e3e"/>
<circle cx="123.60" cy="295.70" r="1.05" fill="#9a3e3e"/>
<circle cx="121.60" cy="299.70" r="1.05" fill="#9a3e3e"/>
<circle cx="116.85" cy="306.95" r="1.05" fill="#9a3e3e"/>
<circle cx="157.60" cy="309.95" r="1.05" fill="#9a3e3e"/>
<circle cx="133.85" cy="319.45" r="1.05" fill="#9a3e3e"/>
<circle cx="107.85" cy="326.70" r="1.05" fill="#9a3e3e"/>
<circle cx="114.10" cy="326.20" r="1.05" fill="#9a3e3e"/>
<circle cx="120.10" cy="327.20" r="1.05" fill="#9a3e3e"/>
<circle cx="132.10" cy="303.95" r="1.05" fill="#3b54a6"/>
<circle cx="153.10" cy="307.45" r="1.05" fill="#3b54a6"/>
<circle cx="135.10" cy="318.70" r="1.05" fill="#3b54a6"/>
<circle cx="148.60" cy="325.70" r="1.05" fill="#1d7034"/>
<circle cx="234.60" cy="276.20" r="1.05" fill="#1d7034"/>
<circle cx="259.60" cy="284.45" r="1.05" fill="#3b54a6"/>
<circle cx="175.10" cy="298.20" r="1.05" fill="#3b54a6"/>
<circle cx="182.10" cy="321.95" r="1.05" fill="#1d7034"/>
<circle cx="216.10" cy="317.70" r="1.05" fill="#1d7034"/>
<circle cx="236.85" cy="320.45" r="1.05" fill="#1d7034"/>
<circle cx="311.35" cy="327.70" r="1.05" fill="#1d7034"/>
<circle cx="301.10" cy="309.70" r="1.05" fill="#3b54a6"/>
</g>
<rect x="23.30" y="216.10" width="317.20" height="166.00" fill="none" stroke="#d0d0d0" stroke-width="0.8"/>
<line x1="21.80" x2="23.30" y1="236.40" y2="236.40" stroke="#888" stroke-width="0.5"/>
<text x="20.50" y="238.70" font-size="5" fill="#444" stroke="#444" stroke-width="0.1" text-anchor="end">1.0</text>
<line x1="21.80" x2="23.30" y1="269.20" y2="269.20" stroke="#888" stroke-width="0.5"/>
<text x="20.50" y="271.50" font-size="5" fill="#444" stroke="#444" stroke-width="0.1" text-anchor="end">0.5</text>
<line x1="21.80" x2="23.30" y1="301.90" y2="301.90" stroke="#888" stroke-width="0.5"/>
<text x="20.50" y="304.20" font-size="5" fill="#444" stroke="#444" stroke-width="0.1" text-anchor="end">0.0</text>
<line x1="21.80" x2="23.30" y1="334.70" y2="334.70" stroke="#888" stroke-width="0.5"/>
<text x="20.50" y="337.00" font-size="5" fill="#444" stroke="#444" stroke-width="0.1" text-anchor="end">-0.5</text>
<line x1="21.80" x2="23.30" y1="367.50" y2="367.50" stroke="#888" stroke-width="0.5"/>
<text x="20.50" y="369.80" font-size="5" fill="#444" stroke="#444" stroke-width="0.1" text-anchor="end">-1.0</text>
<line x1="76.50" x2="76.50" y1="382.10" y2="383.60" stroke="#888" stroke-width="0.5"/>
<text x="76.50" y="389.00" font-size="5" fill="#444" stroke="#444" stroke-width="0.1" text-anchor="middle">-1</text>
<line x1="165.00" x2="165.00" y1="382.10" y2="383.60" stroke="#888" stroke-width="0.5"/>
<text x="165.00" y="389.00" font-size="5" fill="#444" stroke="#444" stroke-width="0.1" text-anchor="middle">0</text>
<line x1="253.50" x2="253.50" y1="382.10" y2="383.60" stroke="#888" stroke-width="0.5"/>
<text x="253.50" y="389.00" font-size="5" fill="#444" stroke="#444" stroke-width="0.1" text-anchor="middle">1</text>
<text x="23.40" y="211.80" font-size="7.4" font-weight="bold" fill="#222">L</text>
<text x="181.00" y="396.00" font-size="6.4" fill="#2a2a2a" stroke="#2a2a2a" stroke-width="0.18" text-anchor="middle" textLength="10.6" lengthAdjust="spacingAndGlyphs">PC1</text>
<text transform="translate(10.30,298.70) rotate(-90)" font-size="6.4" fill="#2a2a2a" stroke="#2a2a2a" stroke-width="0.18" text-anchor="middle" textLength="10.6" lengthAdjust="spacingAndGlyphs">PC2</text>
<clipPath id="cEL"><rect x="364.30" y="216.10" width="316.60" height="165.60"/></clipPath>
<g>
<line x1="364.30" x2="680.90" y1="231.80" y2="231.80" stroke="#eaeaea" stroke-width="0.75"/>
<line x1="364.30" x2="680.90" y1="262.30" y2="262.30" stroke="#eaeaea" stroke-width="0.75"/>
<line x1="364.30" x2="680.90" y1="292.90" y2="292.90" stroke="#eaeaea" stroke-width="0.75"/>
<line x1="364.30" x2="680.90" y1="323.50" y2="323.50" stroke="#eaeaea" stroke-width="0.75"/>
<line x1="364.30" x2="680.90" y1="354.00" y2="354.00" stroke="#eaeaea" stroke-width="0.75"/>
<line x1="383.90" x2="383.90" y1="216.10" y2="381.70" stroke="#eaeaea" stroke-width="0.75"/>
<line x1="470.30" x2="470.30" y1="216.10" y2="381.70" stroke="#eaeaea" stroke-width="0.75"/>
<line x1="556.20" x2="556.20" y1="216.10" y2="381.70" stroke="#eaeaea" stroke-width="0.75"/>
<line x1="642.00" x2="642.00" y1="216.10" y2="381.70" stroke="#eaeaea" stroke-width="0.75"/>
<line x1="364.30" x2="680.90" y1="216.60" y2="216.60" stroke="#e3e3e3" stroke-width="0.9"/>
<line x1="364.30" x2="680.90" y1="247.10" y2="247.10" stroke="#e3e3e3" stroke-width="0.9"/>
<line x1="364.30" x2="680.90" y1="277.60" y2="277.60" stroke="#e3e3e3" stroke-width="0.9"/>
<line x1="364.30" x2="680.90" y1="308.30" y2="308.30" stroke="#e3e3e3" stroke-width="0.9"/>
<line x1="364.30" x2="680.90" y1="338.80" y2="338.80" stroke="#e3e3e3" stroke-width="0.9"/>
<line x1="364.30" x2="680.90" y1="369.30" y2="369.30" stroke="#e3e3e3" stroke-width="0.9"/>
<line x1="427.10" x2="427.10" y1="216.10" y2="381.70" stroke="#e3e3e3" stroke-width="0.9"/>
<line x1="513.20" x2="513.20" y1="216.10" y2="381.70" stroke="#e3e3e3" stroke-width="0.9"/>
<line x1="599.00" x2="599.00" y1="216.10" y2="381.70" stroke="#e3e3e3" stroke-width="0.9"/>
</g>
<g clip-path="url(#cEL)">
<path d="M653.00,281.88 L652.94,283.85 L652.78,285.81 L652.50,287.75 L652.10,289.67 L651.60,291.56 L650.99,293.43 L650.27,295.26 L649.44,297.06 L648.50,298.83 L647.46,300.56 L646.31,302.24 L645.07,303.88 L643.72,305.48 L642.27,307.03 L640.73,308.52 L639.10,309.96 L637.37,311.35 L635.56,312.68 L633.66,313.94 L631.68,315.15 L629.62,316.29 L627.48,317.37 L625.27,318.37 L622.99,319.31 L620.65,320.18 L618.24,320.98 L615.77,321.71 L613.25,322.36 L610.68,322.93 L608.06,323.43 L605.40,323.85 L602.70,324.20 L599.96,324.47 L597.19,324.66 L594.40,324.77 L591.59,324.80 L588.76,324.75 L585.91,324.63 L583.06,324.42 L580.20,324.14 L577.34,323.78 L574.49,323.34 L571.64,322.83 L568.81,322.24 L566.00,321.58 L563.21,320.84 L560.44,320.03 L557.70,319.15 L555.00,318.19 L552.34,317.17 L549.72,316.09 L547.15,314.93 L544.63,313.72 L542.16,312.44 L539.75,311.10 L537.41,309.70 L535.13,308.25 L532.92,306.75 L530.78,305.19 L528.72,303.59 L526.74,301.94 L524.84,300.24 L523.03,298.51 L521.30,296.73 L519.67,294.93 L518.13,293.08 L516.68,291.21 L515.33,289.32 L514.09,287.39 L512.94,285.45 L511.90,283.49 L510.96,281.51 L510.13,279.52 L509.41,277.53 L508.80,275.52 L508.30,273.52 L507.90,271.51 L507.62,269.51 L507.46,267.51 L507.40,265.52 L507.46,263.55 L507.62,261.59 L507.90,259.65 L508.30,257.73 L508.80,255.84 L509.41,253.97 L510.13,252.14 L510.96,250.34 L511.90,248.57 L512.94,246.84 L514.09,245.16 L515.33,243.52 L516.68,241.92 L518.13,240.37 L519.67,238.88 L521.30,237.44 L523.03,236.05 L524.84,234.72 L526.74,233.46 L528.72,232.25 L530.78,231.11 L532.92,230.03 L535.13,229.03 L537.41,228.09 L539.75,227.22 L542.16,226.42 L544.63,225.69 L547.15,225.04 L549.72,224.47 L552.34,223.97 L555.00,223.55 L557.70,223.20 L560.44,222.93 L563.21,222.74 L566.00,222.63 L568.81,222.60 L571.64,222.65 L574.49,222.77 L577.34,222.98 L580.20,223.26 L583.06,223.62 L585.91,224.06 L588.76,224.57 L591.59,225.16 L594.40,225.82 L597.19,226.56 L599.96,227.37 L602.70,228.25 L605.40,229.21 L608.06,230.23 L610.68,231.31 L613.25,232.47 L615.77,233.68 L618.24,234.96 L620.65,236.30 L622.99,237.70 L625.27,239.15 L627.48,240.65 L629.62,242.21 L631.68,243.81 L633.66,245.46 L635.56,247.16 L637.37,248.89 L639.10,250.67 L640.73,252.47 L642.27,254.32 L643.72,256.19 L645.07,258.08 L646.31,260.01 L647.46,261.95 L648.50,263.91 L649.44,265.89 L650.27,267.88 L650.99,269.87 L651.60,271.88 L652.10,273.88 L652.50,275.89 L652.78,277.89 L652.94,279.89Z" fill="rgba(30,160,95,0.062)" stroke="none"/>
<path d="M666.20,311.48 L666.15,313.51 L666.02,315.54 L665.79,317.57 L665.47,319.61 L665.06,321.65 L664.56,323.68 L663.97,325.71 L663.29,327.72 L662.52,329.72 L661.67,331.70 L660.73,333.67 L659.71,335.61 L658.61,337.52 L657.43,339.41 L656.17,341.26 L654.84,343.08 L653.43,344.86 L651.94,346.60 L650.39,348.30 L648.77,349.95 L647.09,351.55 L645.34,353.11 L643.54,354.61 L641.67,356.05 L639.76,357.44 L637.79,358.77 L635.77,360.04 L633.71,361.24 L631.61,362.38 L629.47,363.45 L627.29,364.45 L625.09,365.38 L622.85,366.24 L620.59,367.02 L618.31,367.73 L616.01,368.37 L613.69,368.93 L611.37,369.41 L609.04,369.81 L606.70,370.14 L604.36,370.38 L602.03,370.55 L599.71,370.64 L597.39,370.64 L595.09,370.57 L592.81,370.42 L590.55,370.18 L588.31,369.87 L586.11,369.48 L583.93,369.01 L581.79,368.46 L579.69,367.84 L577.63,367.14 L575.61,366.36 L573.64,365.52 L571.73,364.60 L569.86,363.60 L568.06,362.55 L566.31,361.42 L564.63,360.23 L563.01,358.97 L561.46,357.65 L559.97,356.27 L558.56,354.83 L557.23,353.34 L555.97,351.80 L554.79,350.20 L553.69,348.55 L552.67,346.86 L551.73,345.13 L550.88,343.35 L550.11,341.54 L549.43,339.69 L548.84,337.81 L548.34,335.90 L547.93,333.97 L547.61,332.01 L547.38,330.03 L547.25,328.03 L547.20,326.02 L547.25,323.99 L547.38,321.96 L547.61,319.93 L547.93,317.89 L548.34,315.85 L548.84,313.82 L549.43,311.79 L550.11,309.78 L550.88,307.78 L551.73,305.80 L552.67,303.83 L553.69,301.89 L554.79,299.98 L555.97,298.09 L557.23,296.24 L558.56,294.42 L559.97,292.64 L561.46,290.90 L563.01,289.20 L564.63,287.55 L566.31,285.95 L568.06,284.39 L569.86,282.89 L571.73,281.45 L573.64,280.06 L575.61,278.73 L577.63,277.46 L579.69,276.26 L581.79,275.12 L583.93,274.05 L586.11,273.05 L588.31,272.12 L590.55,271.26 L592.81,270.48 L595.09,269.77 L597.39,269.13 L599.71,268.57 L602.03,268.09 L604.36,267.69 L606.70,267.36 L609.04,267.12 L611.37,266.95 L613.69,266.86 L616.01,266.86 L618.31,266.93 L620.59,267.08 L622.85,267.32 L625.09,267.63 L627.29,268.02 L629.47,268.49 L631.61,269.04 L633.71,269.66 L635.77,270.36 L637.79,271.14 L639.76,271.98 L641.67,272.90 L643.54,273.90 L645.34,274.95 L647.09,276.08 L648.77,277.27 L650.39,278.53 L651.94,279.85 L653.43,281.23 L654.84,282.67 L656.17,284.16 L657.43,285.70 L658.61,287.30 L659.71,288.95 L660.73,290.64 L661.67,292.37 L662.52,294.15 L663.29,295.96 L663.97,297.81 L664.56,299.69 L665.06,301.60 L665.47,303.53 L665.79,305.49 L666.02,307.47 L666.15,309.47Z" fill="rgba(60,150,240,0.055)" stroke="none"/>
<path d="M664.20,354.22 L664.17,355.73 L664.09,357.20 L663.94,358.62 L663.75,359.99 L663.49,361.30 L663.18,362.57 L662.81,363.77 L662.39,364.92 L661.92,366.00 L661.39,367.02 L660.81,367.98 L660.18,368.87 L659.50,369.70 L658.76,370.46 L657.98,371.15 L657.15,371.77 L656.28,372.31 L655.36,372.79 L654.40,373.19 L653.39,373.52 L652.35,373.78 L651.26,373.96 L650.14,374.07 L648.99,374.10 L647.80,374.06 L646.58,373.94 L645.33,373.75 L644.05,373.48 L642.75,373.14 L641.42,372.73 L640.07,372.24 L638.70,371.68 L637.32,371.06 L635.91,370.36 L634.50,369.59 L633.07,368.75 L631.64,367.85 L630.20,366.88 L628.75,365.85 L627.30,364.76 L625.85,363.61 L624.40,362.39 L622.96,361.12 L621.53,359.80 L620.10,358.42 L618.69,357.00 L617.28,355.52 L615.90,354.00 L614.53,352.43 L613.18,350.83 L611.85,349.18 L610.55,347.50 L609.27,345.78 L608.02,344.04 L606.80,342.26 L605.61,340.46 L604.46,338.64 L603.34,336.79 L602.25,334.93 L601.21,333.06 L600.20,331.17 L599.24,329.27 L598.32,327.37 L597.45,325.47 L596.62,323.56 L595.84,321.66 L595.10,319.77 L594.42,317.88 L593.79,316.01 L593.21,314.15 L592.68,312.31 L592.21,310.49 L591.79,308.69 L591.42,306.92 L591.11,305.17 L590.85,303.46 L590.66,301.79 L590.51,300.15 L590.43,298.54 L590.40,296.99 L590.43,295.47 L590.51,294.00 L590.66,292.58 L590.85,291.21 L591.11,289.90 L591.42,288.63 L591.79,287.43 L592.21,286.28 L592.68,285.20 L593.21,284.18 L593.79,283.22 L594.42,282.33 L595.10,281.50 L595.84,280.74 L596.62,280.05 L597.45,279.43 L598.32,278.89 L599.24,278.41 L600.20,278.01 L601.21,277.68 L602.25,277.42 L603.34,277.24 L604.46,277.13 L605.61,277.10 L606.80,277.14 L608.02,277.26 L609.27,277.45 L610.55,277.72 L611.85,278.06 L613.18,278.47 L614.53,278.96 L615.90,279.52 L617.28,280.14 L618.69,280.84 L620.10,281.61 L621.53,282.45 L622.96,283.35 L624.40,284.32 L625.85,285.35 L627.30,286.44 L628.75,287.59 L630.20,288.81 L631.64,290.08 L633.07,291.40 L634.50,292.78 L635.91,294.20 L637.32,295.68 L638.70,297.20 L640.07,298.77 L641.42,300.37 L642.75,302.02 L644.05,303.70 L645.33,305.42 L646.58,307.16 L647.80,308.94 L648.99,310.74 L650.14,312.56 L651.26,314.41 L652.35,316.27 L653.39,318.14 L654.40,320.03 L655.36,321.93 L656.28,323.83 L657.15,325.73 L657.98,327.64 L658.76,329.54 L659.50,331.43 L660.18,333.32 L660.81,335.19 L661.39,337.05 L661.92,338.89 L662.39,340.71 L662.81,342.51 L663.18,344.28 L663.49,346.03 L663.75,347.74 L663.94,349.41 L664.09,351.05 L664.17,352.66Z" fill="rgba(225,50,50,0.044)" stroke="none"/>
<path d="M653.00,281.88 L652.94,283.85 L652.78,285.81 L652.50,287.75 L652.10,289.67 L651.60,291.56 L650.99,293.43 L650.27,295.26 L649.44,297.06 L648.50,298.83 L647.46,300.56 L646.31,302.24 L645.07,303.88 L643.72,305.48 L642.27,307.03 L640.73,308.52 L639.10,309.96 L637.37,311.35 L635.56,312.68 L633.66,313.94 L631.68,315.15 L629.62,316.29 L627.48,317.37 L625.27,318.37 L622.99,319.31 L620.65,320.18 L618.24,320.98 L615.77,321.71 L613.25,322.36 L610.68,322.93 L608.06,323.43 L605.40,323.85 L602.70,324.20 L599.96,324.47 L597.19,324.66 L594.40,324.77 L591.59,324.80 L588.76,324.75 L585.91,324.63 L583.06,324.42 L580.20,324.14 L577.34,323.78 L574.49,323.34 L571.64,322.83 L568.81,322.24 L566.00,321.58 L563.21,320.84 L560.44,320.03 L557.70,319.15 L555.00,318.19 L552.34,317.17 L549.72,316.09 L547.15,314.93 L544.63,313.72 L542.16,312.44 L539.75,311.10 L537.41,309.70 L535.13,308.25 L532.92,306.75 L530.78,305.19 L528.72,303.59 L526.74,301.94 L524.84,300.24 L523.03,298.51 L521.30,296.73 L519.67,294.93 L518.13,293.08 L516.68,291.21 L515.33,289.32 L514.09,287.39 L512.94,285.45 L511.90,283.49 L510.96,281.51 L510.13,279.52 L509.41,277.53 L508.80,275.52 L508.30,273.52 L507.90,271.51 L507.62,269.51 L507.46,267.51 L507.40,265.52 L507.46,263.55 L507.62,261.59 L507.90,259.65 L508.30,257.73 L508.80,255.84 L509.41,253.97 L510.13,252.14 L510.96,250.34 L511.90,248.57 L512.94,246.84 L514.09,245.16 L515.33,243.52 L516.68,241.92 L518.13,240.37 L519.67,238.88 L521.30,237.44 L523.03,236.05 L524.84,234.72 L526.74,233.46 L528.72,232.25 L530.78,231.11 L532.92,230.03 L535.13,229.03 L537.41,228.09 L539.75,227.22 L542.16,226.42 L544.63,225.69 L547.15,225.04 L549.72,224.47 L552.34,223.97 L555.00,223.55 L557.70,223.20 L560.44,222.93 L563.21,222.74 L566.00,222.63 L568.81,222.60 L571.64,222.65 L574.49,222.77 L577.34,222.98 L580.20,223.26 L583.06,223.62 L585.91,224.06 L588.76,224.57 L591.59,225.16 L594.40,225.82 L597.19,226.56 L599.96,227.37 L602.70,228.25 L605.40,229.21 L608.06,230.23 L610.68,231.31 L613.25,232.47 L615.77,233.68 L618.24,234.96 L620.65,236.30 L622.99,237.70 L625.27,239.15 L627.48,240.65 L629.62,242.21 L631.68,243.81 L633.66,245.46 L635.56,247.16 L637.37,248.89 L639.10,250.67 L640.73,252.47 L642.27,254.32 L643.72,256.19 L645.07,258.08 L646.31,260.01 L647.46,261.95 L648.50,263.91 L649.44,265.89 L650.27,267.88 L650.99,269.87 L651.60,271.88 L652.10,273.88 L652.50,275.89 L652.78,277.89 L652.94,279.89Z" fill="none" stroke="#6e6e6e" stroke-width="0.9"/>
<path d="M666.20,311.48 L666.15,313.51 L666.02,315.54 L665.79,317.57 L665.47,319.61 L665.06,321.65 L664.56,323.68 L663.97,325.71 L663.29,327.72 L662.52,329.72 L661.67,331.70 L660.73,333.67 L659.71,335.61 L658.61,337.52 L657.43,339.41 L656.17,341.26 L654.84,343.08 L653.43,344.86 L651.94,346.60 L650.39,348.30 L648.77,349.95 L647.09,351.55 L645.34,353.11 L643.54,354.61 L641.67,356.05 L639.76,357.44 L637.79,358.77 L635.77,360.04 L633.71,361.24 L631.61,362.38 L629.47,363.45 L627.29,364.45 L625.09,365.38 L622.85,366.24 L620.59,367.02 L618.31,367.73 L616.01,368.37 L613.69,368.93 L611.37,369.41 L609.04,369.81 L606.70,370.14 L604.36,370.38 L602.03,370.55 L599.71,370.64 L597.39,370.64 L595.09,370.57 L592.81,370.42 L590.55,370.18 L588.31,369.87 L586.11,369.48 L583.93,369.01 L581.79,368.46 L579.69,367.84 L577.63,367.14 L575.61,366.36 L573.64,365.52 L571.73,364.60 L569.86,363.60 L568.06,362.55 L566.31,361.42 L564.63,360.23 L563.01,358.97 L561.46,357.65 L559.97,356.27 L558.56,354.83 L557.23,353.34 L555.97,351.80 L554.79,350.20 L553.69,348.55 L552.67,346.86 L551.73,345.13 L550.88,343.35 L550.11,341.54 L549.43,339.69 L548.84,337.81 L548.34,335.90 L547.93,333.97 L547.61,332.01 L547.38,330.03 L547.25,328.03 L547.20,326.02 L547.25,323.99 L547.38,321.96 L547.61,319.93 L547.93,317.89 L548.34,315.85 L548.84,313.82 L549.43,311.79 L550.11,309.78 L550.88,307.78 L551.73,305.80 L552.67,303.83 L553.69,301.89 L554.79,299.98 L555.97,298.09 L557.23,296.24 L558.56,294.42 L559.97,292.64 L561.46,290.90 L563.01,289.20 L564.63,287.55 L566.31,285.95 L568.06,284.39 L569.86,282.89 L571.73,281.45 L573.64,280.06 L575.61,278.73 L577.63,277.46 L579.69,276.26 L581.79,275.12 L583.93,274.05 L586.11,273.05 L588.31,272.12 L590.55,271.26 L592.81,270.48 L595.09,269.77 L597.39,269.13 L599.71,268.57 L602.03,268.09 L604.36,267.69 L606.70,267.36 L609.04,267.12 L611.37,266.95 L613.69,266.86 L616.01,266.86 L618.31,266.93 L620.59,267.08 L622.85,267.32 L625.09,267.63 L627.29,268.02 L629.47,268.49 L631.61,269.04 L633.71,269.66 L635.77,270.36 L637.79,271.14 L639.76,271.98 L641.67,272.90 L643.54,273.90 L645.34,274.95 L647.09,276.08 L648.77,277.27 L650.39,278.53 L651.94,279.85 L653.43,281.23 L654.84,282.67 L656.17,284.16 L657.43,285.70 L658.61,287.30 L659.71,288.95 L660.73,290.64 L661.67,292.37 L662.52,294.15 L663.29,295.96 L663.97,297.81 L664.56,299.69 L665.06,301.60 L665.47,303.53 L665.79,305.49 L666.02,307.47 L666.15,309.47Z" fill="none" stroke="#6e6e6e" stroke-width="0.9"/>
<path d="M664.20,354.22 L664.17,355.73 L664.09,357.20 L663.94,358.62 L663.75,359.99 L663.49,361.30 L663.18,362.57 L662.81,363.77 L662.39,364.92 L661.92,366.00 L661.39,367.02 L660.81,367.98 L660.18,368.87 L659.50,369.70 L658.76,370.46 L657.98,371.15 L657.15,371.77 L656.28,372.31 L655.36,372.79 L654.40,373.19 L653.39,373.52 L652.35,373.78 L651.26,373.96 L650.14,374.07 L648.99,374.10 L647.80,374.06 L646.58,373.94 L645.33,373.75 L644.05,373.48 L642.75,373.14 L641.42,372.73 L640.07,372.24 L638.70,371.68 L637.32,371.06 L635.91,370.36 L634.50,369.59 L633.07,368.75 L631.64,367.85 L630.20,366.88 L628.75,365.85 L627.30,364.76 L625.85,363.61 L624.40,362.39 L622.96,361.12 L621.53,359.80 L620.10,358.42 L618.69,357.00 L617.28,355.52 L615.90,354.00 L614.53,352.43 L613.18,350.83 L611.85,349.18 L610.55,347.50 L609.27,345.78 L608.02,344.04 L606.80,342.26 L605.61,340.46 L604.46,338.64 L603.34,336.79 L602.25,334.93 L601.21,333.06 L600.20,331.17 L599.24,329.27 L598.32,327.37 L597.45,325.47 L596.62,323.56 L595.84,321.66 L595.10,319.77 L594.42,317.88 L593.79,316.01 L593.21,314.15 L592.68,312.31 L592.21,310.49 L591.79,308.69 L591.42,306.92 L591.11,305.17 L590.85,303.46 L590.66,301.79 L590.51,300.15 L590.43,298.54 L590.40,296.99 L590.43,295.47 L590.51,294.00 L590.66,292.58 L590.85,291.21 L591.11,289.90 L591.42,288.63 L591.79,287.43 L592.21,286.28 L592.68,285.20 L593.21,284.18 L593.79,283.22 L594.42,282.33 L595.10,281.50 L595.84,280.74 L596.62,280.05 L597.45,279.43 L598.32,278.89 L599.24,278.41 L600.20,278.01 L601.21,277.68 L602.25,277.42 L603.34,277.24 L604.46,277.13 L605.61,277.10 L606.80,277.14 L608.02,277.26 L609.27,277.45 L610.55,277.72 L611.85,278.06 L613.18,278.47 L614.53,278.96 L615.90,279.52 L617.28,280.14 L618.69,280.84 L620.10,281.61 L621.53,282.45 L622.96,283.35 L624.40,284.32 L625.85,285.35 L627.30,286.44 L628.75,287.59 L630.20,288.81 L631.64,290.08 L633.07,291.40 L634.50,292.78 L635.91,294.20 L637.32,295.68 L638.70,297.20 L640.07,298.77 L641.42,300.37 L642.75,302.02 L644.05,303.70 L645.33,305.42 L646.58,307.16 L647.80,308.94 L648.99,310.74 L650.14,312.56 L651.26,314.41 L652.35,316.27 L653.39,318.14 L654.40,320.03 L655.36,321.93 L656.28,323.83 L657.15,325.73 L657.98,327.64 L658.76,329.54 L659.50,331.43 L660.18,333.32 L660.81,335.19 L661.39,337.05 L661.92,338.89 L662.39,340.71 L662.81,342.51 L663.18,344.28 L663.49,346.03 L663.75,347.74 L663.94,349.41 L664.09,351.05 L664.17,352.66Z" fill="none" stroke="#6e6e6e" stroke-width="0.9"/>
<circle cx="379.15" cy="368.40" r="1.05" fill="#1d7034"/>
<circle cx="577.40" cy="242.40" r="1.05" fill="#1d7034"/>
<circle cx="556.90" cy="258.90" r="1.05" fill="#1d7034"/>
<circle cx="550.40" cy="265.15" r="1.05" fill="#1d7034"/>
<circle cx="578.40" cy="267.15" r="1.05" fill="#1d7034"/>
<circle cx="573.90" cy="272.90" r="1.05" fill="#1d7034"/>
<circle cx="611.90" cy="277.15" r="1.05" fill="#1d7034"/>
<circle cx="596.15" cy="283.15" r="1.05" fill="#1d7034"/>
<circle cx="595.90" cy="284.65" r="1.05" fill="#1d7034"/>
<circle cx="616.65" cy="287.40" r="1.05" fill="#3b54a6"/>
<circle cx="632.65" cy="285.90" r="1.05" fill="#3b54a6"/>
<circle cx="624.15" cy="289.15" r="1.05" fill="#9a3e3e"/>
<circle cx="563.65" cy="307.65" r="1.05" fill="#3b54a6"/>
<circle cx="584.90" cy="311.15" r="1.05" fill="#3b54a6"/>
<circle cx="602.15" cy="316.15" r="1.05" fill="#3b54a6"/>
<circle cx="619.40" cy="321.90" r="1.05" fill="#3b54a6"/>
<circle cx="653.65" cy="322.90" r="1.05" fill="#3b54a6"/>
<circle cx="599.15" cy="338.90" r="1.05" fill="#3b54a6"/>
<circle cx="603.40" cy="340.40" r="1.05" fill="#3b54a6"/>
<circle cx="605.90" cy="337.40" r="1.05" fill="#3b54a6"/>
<circle cx="605.90" cy="311.40" r="1.05" fill="#1d7034"/>
<circle cx="612.90" cy="311.65" r="1.05" fill="#9a3e3e"/>
<circle cx="614.65" cy="311.65" r="1.05" fill="#9a3e3e"/>
<circle cx="604.40" cy="319.65" r="1.05" fill="#9a3e3e"/>
<circle cx="633.90" cy="314.65" r="1.05" fill="#9a3e3e"/>
<circle cx="629.40" cy="331.65" r="1.05" fill="#9a3e3e"/>
<circle cx="637.65" cy="332.65" r="1.05" fill="#9a3e3e"/>
<circle cx="620.15" cy="343.65" r="1.05" fill="#9a3e3e"/>
<circle cx="644.40" cy="346.15" r="1.05" fill="#9a3e3e"/>
<circle cx="642.40" cy="349.65" r="1.05" fill="#9a3e3e"/>
</g>
<rect x="364.30" y="216.10" width="316.60" height="165.60" fill="none" stroke="#d0d0d0" stroke-width="0.8"/>
<line x1="362.80" x2="364.30" y1="216.60" y2="216.60" stroke="#888" stroke-width="0.5"/>
<text x="361.50" y="218.90" font-size="5" fill="#444" stroke="#444" stroke-width="0.1" text-anchor="end">1.5</text>
<line x1="362.80" x2="364.30" y1="247.10" y2="247.10" stroke="#888" stroke-width="0.5"/>
<text x="361.50" y="249.40" font-size="5" fill="#444" stroke="#444" stroke-width="0.1" text-anchor="end">1.0</text>
<line x1="362.80" x2="364.30" y1="277.60" y2="277.60" stroke="#888" stroke-width="0.5"/>
<text x="361.50" y="279.90" font-size="5" fill="#444" stroke="#444" stroke-width="0.1" text-anchor="end">0.5</text>
<line x1="362.80" x2="364.30" y1="308.30" y2="308.30" stroke="#888" stroke-width="0.5"/>
<text x="361.50" y="310.60" font-size="5" fill="#444" stroke="#444" stroke-width="0.1" text-anchor="end">0.0</text>
<line x1="362.80" x2="364.30" y1="338.80" y2="338.80" stroke="#888" stroke-width="0.5"/>
<text x="361.50" y="341.10" font-size="5" fill="#444" stroke="#444" stroke-width="0.1" text-anchor="end">-0.5</text>
<line x1="362.80" x2="364.30" y1="369.30" y2="369.30" stroke="#888" stroke-width="0.5"/>
<text x="361.50" y="371.60" font-size="5" fill="#444" stroke="#444" stroke-width="0.1" text-anchor="end">-1.0</text>
<line x1="427.10" x2="427.10" y1="381.70" y2="383.20" stroke="#888" stroke-width="0.5"/>
<text x="427.10" y="388.60" font-size="5" fill="#444" stroke="#444" stroke-width="0.1" text-anchor="middle">-2</text>
<line x1="513.20" x2="513.20" y1="381.70" y2="383.20" stroke="#888" stroke-width="0.5"/>
<text x="513.20" y="388.60" font-size="5" fill="#444" stroke="#444" stroke-width="0.1" text-anchor="middle">-1</text>
<line x1="599.00" x2="599.00" y1="381.70" y2="383.20" stroke="#888" stroke-width="0.5"/>
<text x="599.00" y="388.60" font-size="5" fill="#444" stroke="#444" stroke-width="0.1" text-anchor="middle">0</text>
<text x="364.20" y="211.80" font-size="7.4" font-weight="bold" fill="#222">EL</text>
<text x="522.00" y="396.00" font-size="6.4" fill="#2a2a2a" stroke="#2a2a2a" stroke-width="0.18" text-anchor="middle" textLength="10.6" lengthAdjust="spacingAndGlyphs">PC1</text>
<text transform="translate(352.00,298.70) rotate(-90)" font-size="6.4" fill="#2a2a2a" stroke="#2a2a2a" stroke-width="0.18" text-anchor="middle" textLength="10.6" lengthAdjust="spacingAndGlyphs">PC2</text>
<text x="138.00" y="412.2" font-size="6.4" fill="#222" stroke="#222" stroke-width="0.18" textLength="15.2" lengthAdjust="spacingAndGlyphs">Breed</text>
<rect x="156.40" y="405.4" width="9" height="9" fill="#fff" stroke="#686868" stroke-width="0.75"/>
<circle cx="160.90" cy="409.9" r="1.05" fill="#9a3e3e"/>
<text x="168.00" y="411.8" font-size="4.8" fill="#333" stroke="#333" stroke-width="0.15">BCP</text>
<rect x="181.20" y="405.4" width="9" height="9" fill="#fff" stroke="#686868" stroke-width="0.75"/>
<circle cx="185.70" cy="409.9" r="1.05" fill="#1d7034"/>
<text x="192.60" y="411.8" font-size="4.8" fill="#333" stroke="#333" stroke-width="0.15">PON</text>
<rect x="206.50" y="405.4" width="9" height="9" fill="#fff" stroke="#686868" stroke-width="0.75"/>
<circle cx="211.00" cy="409.9" r="1.05" fill="#3b54a6"/>
<text x="218.00" y="411.8" font-size="4.8" fill="#333" stroke="#333" stroke-width="0.15">SW</text>
<text x="479.00" y="412.2" font-size="6.4" fill="#222" stroke="#222" stroke-width="0.18" textLength="15.2" lengthAdjust="spacingAndGlyphs">Breed</text>
<rect x="497.40" y="405.4" width="9" height="9" fill="#fff" stroke="#686868" stroke-width="0.75"/>
<circle cx="501.90" cy="409.9" r="1.05" fill="#9a3e3e"/>
<text x="509.00" y="411.8" font-size="4.8" fill="#333" stroke="#333" stroke-width="0.15">BCP</text>
<rect x="522.20" y="405.4" width="9" height="9" fill="#fff" stroke="#686868" stroke-width="0.75"/>
<circle cx="526.70" cy="409.9" r="1.05" fill="#1d7034"/>
<text x="533.60" y="411.8" font-size="4.8" fill="#333" stroke="#333" stroke-width="0.15">PON</text>
<rect x="547.50" y="405.4" width="9" height="9" fill="#fff" stroke="#686868" stroke-width="0.75"/>
<circle cx="552.00" cy="409.9" r="1.05" fill="#3b54a6"/>
<text x="559.00" y="411.8" font-size="4.8" fill="#333" stroke="#333" stroke-width="0.15">SW</text>
</g>
</svg>
</body></html>
